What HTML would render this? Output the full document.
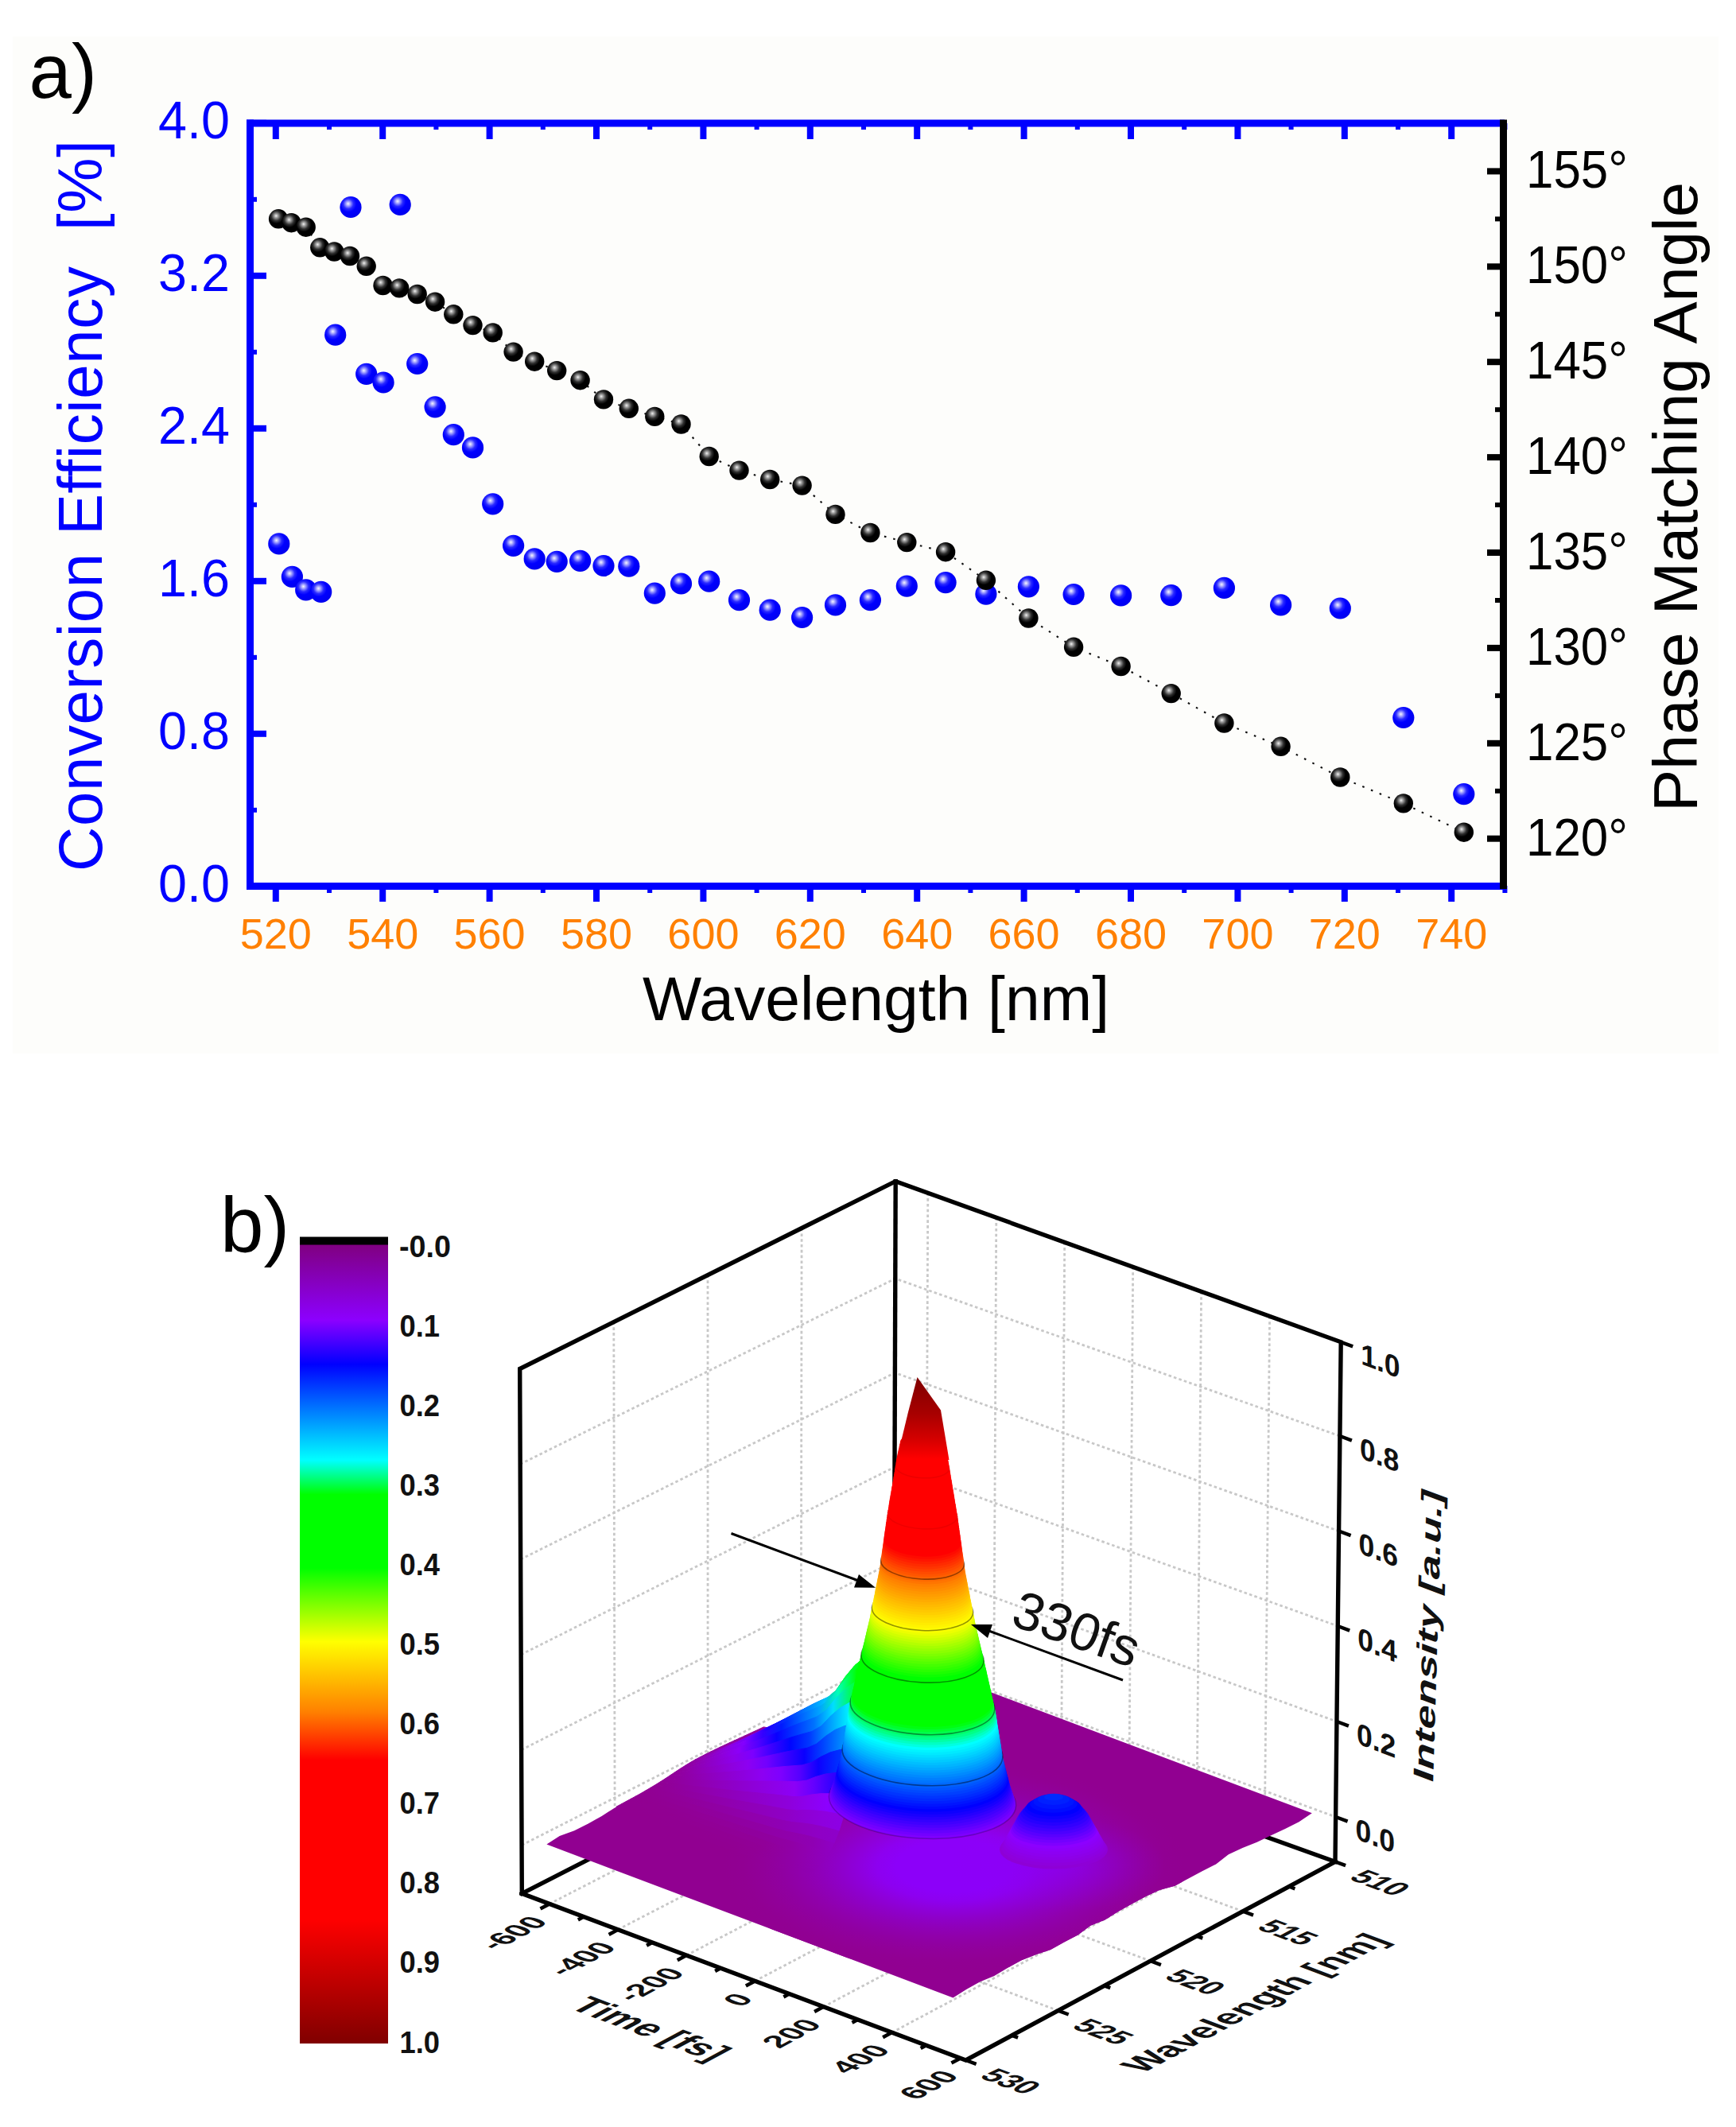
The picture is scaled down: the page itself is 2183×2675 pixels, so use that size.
<!DOCTYPE html>
<html><head><meta charset="utf-8"><title>Figure</title>
<style>html,body{margin:0;padding:0;background:#fff}svg{display:block}</style></head>
<body>
<svg width="2183" height="2675" viewBox="0 0 2183 2675">
<defs>
<radialGradient id="gb" cx="0.40" cy="0.36" r="0.62" fx="0.38" fy="0.34">
<stop offset="0" stop-color="#f4f4ff"/><stop offset="0.12" stop-color="#b8b8ff"/><stop offset="0.38" stop-color="#2a2aff"/><stop offset="0.6" stop-color="#0000ff"/><stop offset="1" stop-color="#0000f0"/>
</radialGradient>
<radialGradient id="gk" cx="0.40" cy="0.36" r="0.62" fx="0.38" fy="0.34">
<stop offset="0" stop-color="#f2f2f2"/><stop offset="0.14" stop-color="#a8a8a8"/><stop offset="0.4" stop-color="#303030"/><stop offset="0.62" stop-color="#000"/><stop offset="1" stop-color="#000"/>
</radialGradient>
</defs>
<rect width="2183" height="2675" fill="#fff"/>
<rect x="16" y="46" width="2145" height="1279" fill="#fdfdfb"/>
<polyline points="350.1,275.3 366.4,280.2 384.7,285.7 402.3,311.3 420.3,316.5 440.0,322.0 460.7,334.8 481.5,359.0 502.2,362.4 524.7,370.0 547.1,379.7 570.3,395.3 594.5,409.1 619.7,418.4 645.6,442.6 672.2,454.7 700.2,466.1 729.6,478.2 759.0,502.4 790.8,513.8 823.3,523.9 856.5,533.5 891.7,574.0 929.5,591.6 968.2,603.0 1008.6,610.6 1050.5,646.9 1094.4,670.0 1140.3,682.1 1189.1,694.2 1239.9,729.8 1293.4,777.5 1350.1,813.8 1409.6,838.0 1472.7,872.1 1539.4,909.5 1610.6,938.8 1685.3,977.5 1764.8,1010.4 1840.8,1046.7" fill="none" stroke="#111" stroke-width="2.1" stroke-dasharray="2.6 9"/>
<circle cx="350.8" cy="683.9" r="13.6" fill="url(#gb)"/>
<circle cx="367.4" cy="725.4" r="13.6" fill="url(#gb)"/>
<circle cx="384.7" cy="741.9" r="13.6" fill="url(#gb)"/>
<circle cx="403.7" cy="744.4" r="13.6" fill="url(#gb)"/>
<circle cx="421.7" cy="421.2" r="13.6" fill="url(#gb)"/>
<circle cx="441.0" cy="260.5" r="13.6" fill="url(#gb)"/>
<circle cx="460.7" cy="470.3" r="13.6" fill="url(#gb)"/>
<circle cx="482.1" cy="481.0" r="13.6" fill="url(#gb)"/>
<circle cx="503.2" cy="257.4" r="13.6" fill="url(#gb)"/>
<circle cx="524.7" cy="457.5" r="13.6" fill="url(#gb)"/>
<circle cx="547.1" cy="511.8" r="13.6" fill="url(#gb)"/>
<circle cx="570.3" cy="546.7" r="13.6" fill="url(#gb)"/>
<circle cx="594.5" cy="562.9" r="13.6" fill="url(#gb)"/>
<circle cx="619.7" cy="633.8" r="13.6" fill="url(#gb)"/>
<circle cx="645.6" cy="686.3" r="13.6" fill="url(#gb)"/>
<circle cx="672.2" cy="702.9" r="13.6" fill="url(#gb)"/>
<circle cx="700.2" cy="706.3" r="13.6" fill="url(#gb)"/>
<circle cx="729.6" cy="705.3" r="13.6" fill="url(#gb)"/>
<circle cx="759.0" cy="711.5" r="13.6" fill="url(#gb)"/>
<circle cx="790.8" cy="712.2" r="13.6" fill="url(#gb)"/>
<circle cx="823.3" cy="746.1" r="13.6" fill="url(#gb)"/>
<circle cx="856.5" cy="734.0" r="13.6" fill="url(#gb)"/>
<circle cx="891.7" cy="731.2" r="13.6" fill="url(#gb)"/>
<circle cx="929.5" cy="754.7" r="13.6" fill="url(#gb)"/>
<circle cx="968.2" cy="767.2" r="13.6" fill="url(#gb)"/>
<circle cx="1008.6" cy="776.5" r="13.6" fill="url(#gb)"/>
<circle cx="1050.5" cy="760.9" r="13.6" fill="url(#gb)"/>
<circle cx="1094.4" cy="754.7" r="13.6" fill="url(#gb)"/>
<circle cx="1140.3" cy="737.1" r="13.6" fill="url(#gb)"/>
<circle cx="1189.1" cy="732.6" r="13.6" fill="url(#gb)"/>
<circle cx="1239.9" cy="747.1" r="13.6" fill="url(#gb)"/>
<circle cx="1293.4" cy="737.8" r="13.6" fill="url(#gb)"/>
<circle cx="1350.1" cy="747.5" r="13.6" fill="url(#gb)"/>
<circle cx="1409.6" cy="748.9" r="13.6" fill="url(#gb)"/>
<circle cx="1472.7" cy="748.7" r="13.6" fill="url(#gb)"/>
<circle cx="1539.4" cy="739.4" r="13.6" fill="url(#gb)"/>
<circle cx="1610.6" cy="760.8" r="13.6" fill="url(#gb)"/>
<circle cx="1685.3" cy="765.0" r="13.6" fill="url(#gb)"/>
<circle cx="1764.8" cy="902.5" r="13.6" fill="url(#gb)"/>
<circle cx="1840.8" cy="998.6" r="13.6" fill="url(#gb)"/>
<circle cx="350.1" cy="275.3" r="12.2" fill="url(#gk)"/>
<circle cx="366.4" cy="280.2" r="12.2" fill="url(#gk)"/>
<circle cx="384.7" cy="285.7" r="12.2" fill="url(#gk)"/>
<circle cx="402.3" cy="311.3" r="12.2" fill="url(#gk)"/>
<circle cx="420.3" cy="316.5" r="12.2" fill="url(#gk)"/>
<circle cx="440.0" cy="322.0" r="12.2" fill="url(#gk)"/>
<circle cx="460.7" cy="334.8" r="12.2" fill="url(#gk)"/>
<circle cx="481.5" cy="359.0" r="12.2" fill="url(#gk)"/>
<circle cx="502.2" cy="362.4" r="12.2" fill="url(#gk)"/>
<circle cx="524.7" cy="370.0" r="12.2" fill="url(#gk)"/>
<circle cx="547.1" cy="379.7" r="12.2" fill="url(#gk)"/>
<circle cx="570.3" cy="395.3" r="12.2" fill="url(#gk)"/>
<circle cx="594.5" cy="409.1" r="12.2" fill="url(#gk)"/>
<circle cx="619.7" cy="418.4" r="12.2" fill="url(#gk)"/>
<circle cx="645.6" cy="442.6" r="12.2" fill="url(#gk)"/>
<circle cx="672.2" cy="454.7" r="12.2" fill="url(#gk)"/>
<circle cx="700.2" cy="466.1" r="12.2" fill="url(#gk)"/>
<circle cx="729.6" cy="478.2" r="12.2" fill="url(#gk)"/>
<circle cx="759.0" cy="502.4" r="12.2" fill="url(#gk)"/>
<circle cx="790.8" cy="513.8" r="12.2" fill="url(#gk)"/>
<circle cx="823.3" cy="523.9" r="12.2" fill="url(#gk)"/>
<circle cx="856.5" cy="533.5" r="12.2" fill="url(#gk)"/>
<circle cx="891.7" cy="574.0" r="12.2" fill="url(#gk)"/>
<circle cx="929.5" cy="591.6" r="12.2" fill="url(#gk)"/>
<circle cx="968.2" cy="603.0" r="12.2" fill="url(#gk)"/>
<circle cx="1008.6" cy="610.6" r="12.2" fill="url(#gk)"/>
<circle cx="1050.5" cy="646.9" r="12.2" fill="url(#gk)"/>
<circle cx="1094.4" cy="670.0" r="12.2" fill="url(#gk)"/>
<circle cx="1140.3" cy="682.1" r="12.2" fill="url(#gk)"/>
<circle cx="1189.1" cy="694.2" r="12.2" fill="url(#gk)"/>
<circle cx="1239.9" cy="729.8" r="12.2" fill="url(#gk)"/>
<circle cx="1293.4" cy="777.5" r="12.2" fill="url(#gk)"/>
<circle cx="1350.1" cy="813.8" r="12.2" fill="url(#gk)"/>
<circle cx="1409.6" cy="838.0" r="12.2" fill="url(#gk)"/>
<circle cx="1472.7" cy="872.1" r="12.2" fill="url(#gk)"/>
<circle cx="1539.4" cy="909.5" r="12.2" fill="url(#gk)"/>
<circle cx="1610.6" cy="938.8" r="12.2" fill="url(#gk)"/>
<circle cx="1685.3" cy="977.5" r="12.2" fill="url(#gk)"/>
<circle cx="1764.8" cy="1010.4" r="12.2" fill="url(#gk)"/>
<circle cx="1840.8" cy="1046.7" r="12.2" fill="url(#gk)"/>
<g stroke="#0000ff" fill="none">
<line x1="314.5" y1="150.5" x2="314.5" y2="1119" stroke-width="9"/>
<line x1="310" y1="155" x2="1892" y2="155" stroke-width="9"/>
<line x1="310" y1="1114.5" x2="1895" y2="1114.5" stroke-width="9"/>
<line x1="346.8" y1="155" x2="346.8" y2="175" stroke-width="8"/>
<line x1="346.8" y1="1114" x2="346.8" y2="1134" stroke-width="8"/>
<line x1="414.0" y1="155" x2="414.0" y2="163" stroke-width="6"/>
<line x1="414.0" y1="1114" x2="414.0" y2="1123" stroke-width="6"/>
<line x1="481.2" y1="155" x2="481.2" y2="175" stroke-width="8"/>
<line x1="481.2" y1="1114" x2="481.2" y2="1134" stroke-width="8"/>
<line x1="548.4" y1="155" x2="548.4" y2="163" stroke-width="6"/>
<line x1="548.4" y1="1114" x2="548.4" y2="1123" stroke-width="6"/>
<line x1="615.6" y1="155" x2="615.6" y2="175" stroke-width="8"/>
<line x1="615.6" y1="1114" x2="615.6" y2="1134" stroke-width="8"/>
<line x1="682.8" y1="155" x2="682.8" y2="163" stroke-width="6"/>
<line x1="682.8" y1="1114" x2="682.8" y2="1123" stroke-width="6"/>
<line x1="750.0" y1="155" x2="750.0" y2="175" stroke-width="8"/>
<line x1="750.0" y1="1114" x2="750.0" y2="1134" stroke-width="8"/>
<line x1="817.2" y1="155" x2="817.2" y2="163" stroke-width="6"/>
<line x1="817.2" y1="1114" x2="817.2" y2="1123" stroke-width="6"/>
<line x1="884.4" y1="155" x2="884.4" y2="175" stroke-width="8"/>
<line x1="884.4" y1="1114" x2="884.4" y2="1134" stroke-width="8"/>
<line x1="951.6" y1="155" x2="951.6" y2="163" stroke-width="6"/>
<line x1="951.6" y1="1114" x2="951.6" y2="1123" stroke-width="6"/>
<line x1="1018.8" y1="155" x2="1018.8" y2="175" stroke-width="8"/>
<line x1="1018.8" y1="1114" x2="1018.8" y2="1134" stroke-width="8"/>
<line x1="1086.0" y1="155" x2="1086.0" y2="163" stroke-width="6"/>
<line x1="1086.0" y1="1114" x2="1086.0" y2="1123" stroke-width="6"/>
<line x1="1153.2" y1="155" x2="1153.2" y2="175" stroke-width="8"/>
<line x1="1153.2" y1="1114" x2="1153.2" y2="1134" stroke-width="8"/>
<line x1="1220.4" y1="155" x2="1220.4" y2="163" stroke-width="6"/>
<line x1="1220.4" y1="1114" x2="1220.4" y2="1123" stroke-width="6"/>
<line x1="1287.6" y1="155" x2="1287.6" y2="175" stroke-width="8"/>
<line x1="1287.6" y1="1114" x2="1287.6" y2="1134" stroke-width="8"/>
<line x1="1354.8" y1="155" x2="1354.8" y2="163" stroke-width="6"/>
<line x1="1354.8" y1="1114" x2="1354.8" y2="1123" stroke-width="6"/>
<line x1="1422.0" y1="155" x2="1422.0" y2="175" stroke-width="8"/>
<line x1="1422.0" y1="1114" x2="1422.0" y2="1134" stroke-width="8"/>
<line x1="1489.2" y1="155" x2="1489.2" y2="163" stroke-width="6"/>
<line x1="1489.2" y1="1114" x2="1489.2" y2="1123" stroke-width="6"/>
<line x1="1556.4" y1="155" x2="1556.4" y2="175" stroke-width="8"/>
<line x1="1556.4" y1="1114" x2="1556.4" y2="1134" stroke-width="8"/>
<line x1="1623.6" y1="155" x2="1623.6" y2="163" stroke-width="6"/>
<line x1="1623.6" y1="1114" x2="1623.6" y2="1123" stroke-width="6"/>
<line x1="1690.8" y1="155" x2="1690.8" y2="175" stroke-width="8"/>
<line x1="1690.8" y1="1114" x2="1690.8" y2="1134" stroke-width="8"/>
<line x1="1758.0" y1="155" x2="1758.0" y2="163" stroke-width="6"/>
<line x1="1758.0" y1="1114" x2="1758.0" y2="1123" stroke-width="6"/>
<line x1="1825.2" y1="155" x2="1825.2" y2="175" stroke-width="8"/>
<line x1="1825.2" y1="1114" x2="1825.2" y2="1134" stroke-width="8"/>
<line x1="1892.4" y1="155" x2="1892.4" y2="163" stroke-width="6"/>
<line x1="1892.4" y1="1114" x2="1892.4" y2="1123" stroke-width="6"/>
<line x1="314" y1="1114.8" x2="335" y2="1114.8" stroke-width="8"/>
<line x1="314" y1="1018.8" x2="323" y2="1018.8" stroke-width="6"/>
<line x1="314" y1="922.8" x2="335" y2="922.8" stroke-width="8"/>
<line x1="314" y1="826.8" x2="323" y2="826.8" stroke-width="6"/>
<line x1="314" y1="730.8" x2="335" y2="730.8" stroke-width="8"/>
<line x1="314" y1="634.8" x2="323" y2="634.8" stroke-width="6"/>
<line x1="314" y1="538.8" x2="335" y2="538.8" stroke-width="8"/>
<line x1="314" y1="442.8" x2="323" y2="442.8" stroke-width="6"/>
<line x1="314" y1="346.8" x2="335" y2="346.8" stroke-width="8"/>
<line x1="314" y1="250.8" x2="323" y2="250.8" stroke-width="6"/>
<line x1="314" y1="154.8" x2="335" y2="154.8" stroke-width="8"/>
</g>
<g stroke="#000" fill="none">
<line x1="1890.5" y1="150.5" x2="1890.5" y2="1118" stroke-width="9"/>
<line x1="1870" y1="1054.7" x2="1890" y2="1054.7" stroke-width="8"/>
<line x1="1880" y1="994.8" x2="1890" y2="994.8" stroke-width="6"/>
<line x1="1870" y1="934.8" x2="1890" y2="934.8" stroke-width="8"/>
<line x1="1880" y1="874.9" x2="1890" y2="874.9" stroke-width="6"/>
<line x1="1870" y1="814.9" x2="1890" y2="814.9" stroke-width="8"/>
<line x1="1880" y1="755.0" x2="1890" y2="755.0" stroke-width="6"/>
<line x1="1870" y1="695.0" x2="1890" y2="695.0" stroke-width="8"/>
<line x1="1880" y1="635.0" x2="1890" y2="635.0" stroke-width="6"/>
<line x1="1870" y1="575.1" x2="1890" y2="575.1" stroke-width="8"/>
<line x1="1880" y1="515.2" x2="1890" y2="515.2" stroke-width="6"/>
<line x1="1870" y1="455.2" x2="1890" y2="455.2" stroke-width="8"/>
<line x1="1880" y1="395.2" x2="1890" y2="395.2" stroke-width="6"/>
<line x1="1870" y1="335.3" x2="1890" y2="335.3" stroke-width="8"/>
<line x1="1880" y1="275.4" x2="1890" y2="275.4" stroke-width="6"/>
<line x1="1870" y1="215.4" x2="1890" y2="215.4" stroke-width="8"/>
</g>
<g font-family="Liberation Sans, sans-serif">
<g fill="#ff8000" font-size="54" text-anchor="middle">
<text x="346.8" y="1193">520</text>
<text x="481.2" y="1193">540</text>
<text x="615.6" y="1193">560</text>
<text x="750.0" y="1193">580</text>
<text x="884.4" y="1193">600</text>
<text x="1018.8" y="1193">620</text>
<text x="1153.2" y="1193">640</text>
<text x="1287.6" y="1193">660</text>
<text x="1422.0" y="1193">680</text>
<text x="1556.4" y="1193">700</text>
<text x="1690.8" y="1193">720</text>
<text x="1825.2" y="1193">740</text>
</g>
<g fill="#0000ff" font-size="67">
<text x="199" y="1134.3" textLength="90" lengthAdjust="spacingAndGlyphs">0.0</text>
<text x="199" y="942.3" textLength="90" lengthAdjust="spacingAndGlyphs">0.8</text>
<text x="199" y="750.3" textLength="90" lengthAdjust="spacingAndGlyphs">1.6</text>
<text x="199" y="558.3" textLength="90" lengthAdjust="spacingAndGlyphs">2.4</text>
<text x="199" y="366.3" textLength="90" lengthAdjust="spacingAndGlyphs">3.2</text>
<text x="199" y="174.3" textLength="90" lengthAdjust="spacingAndGlyphs">4.0</text>
</g>
<g fill="#000" font-size="66">
<text x="1919" y="1075.7" textLength="128" lengthAdjust="spacingAndGlyphs">120°</text>
<text x="1919" y="955.8" textLength="128" lengthAdjust="spacingAndGlyphs">125°</text>
<text x="1919" y="835.9" textLength="128" lengthAdjust="spacingAndGlyphs">130°</text>
<text x="1919" y="716.0" textLength="128" lengthAdjust="spacingAndGlyphs">135°</text>
<text x="1919" y="596.1" textLength="128" lengthAdjust="spacingAndGlyphs">140°</text>
<text x="1919" y="476.2" textLength="128" lengthAdjust="spacingAndGlyphs">145°</text>
<text x="1919" y="356.3" textLength="128" lengthAdjust="spacingAndGlyphs">150°</text>
<text x="1919" y="236.4" textLength="128" lengthAdjust="spacingAndGlyphs">155°</text>
</g>
<text x="808" y="1283" font-size="78" fill="#000" textLength="587" lengthAdjust="spacingAndGlyphs">Wavelength [nm]</text>
<text transform="translate(128,1096) rotate(-90)" font-size="78" fill="#0000ff" textLength="920" lengthAdjust="spacing">Conversion Efficiency &#160;[%]</text>
<text transform="translate(2133.6,1021) rotate(-90)" font-size="78" fill="#000" textLength="792" lengthAdjust="spacingAndGlyphs">Phase Matching Angle</text>
<text x="36.5" y="122.5" font-size="96" fill="#000">a)</text>
<text x="277" y="1574" font-size="98" fill="#000">b)</text>
</g>
<defs><linearGradient id="cb" x1="0" y1="0" x2="0" y2="1">
<stop offset="0.000" stop-color="rgb(128,0,128)"/>
<stop offset="0.095" stop-color="rgb(140,0,255)"/>
<stop offset="0.150" stop-color="rgb(0,0,255)"/>
<stop offset="0.270" stop-color="rgb(0,255,255)"/>
<stop offset="0.313" stop-color="rgb(0,255,0)"/>
<stop offset="0.405" stop-color="rgb(0,255,0)"/>
<stop offset="0.497" stop-color="rgb(255,255,0)"/>
<stop offset="0.585" stop-color="rgb(255,128,0)"/>
<stop offset="0.645" stop-color="rgb(255,0,0)"/>
<stop offset="0.844" stop-color="rgb(255,0,0)"/>
<stop offset="1.000" stop-color="rgb(128,0,0)"/>
</linearGradient></defs>
<rect x="377" y="1565" width="111" height="1005" fill="url(#cb)"/>
<rect x="377" y="1555.5" width="111" height="10" fill="#000"/>
<g font-family="Liberation Sans, sans-serif" font-weight="bold" font-size="38" fill="#111">
<text x="502" y="1580.5" textLength="65" lengthAdjust="spacingAndGlyphs">-0.0</text>
<text x="502.5" y="1680.6" textLength="50.5" lengthAdjust="spacingAndGlyphs">0.1</text>
<text x="502.5" y="1780.7" textLength="50.5" lengthAdjust="spacingAndGlyphs">0.2</text>
<text x="502.5" y="1880.8" textLength="50.5" lengthAdjust="spacingAndGlyphs">0.3</text>
<text x="502.5" y="1980.9" textLength="50.5" lengthAdjust="spacingAndGlyphs">0.4</text>
<text x="502.5" y="2081.0" textLength="50.5" lengthAdjust="spacingAndGlyphs">0.5</text>
<text x="502.5" y="2181.1" textLength="50.5" lengthAdjust="spacingAndGlyphs">0.6</text>
<text x="502.5" y="2281.2" textLength="50.5" lengthAdjust="spacingAndGlyphs">0.7</text>
<text x="502.5" y="2381.3" textLength="50.5" lengthAdjust="spacingAndGlyphs">0.8</text>
<text x="502.5" y="2481.4" textLength="50.5" lengthAdjust="spacingAndGlyphs">0.9</text>
<text x="502.5" y="2581.5" textLength="50.5" lengthAdjust="spacingAndGlyphs">1.0</text>
</g>
<g stroke="#c8c8c8" stroke-width="2.8" stroke-dasharray="3.6 3.2" fill="none">
<line x1="771.8" y1="1662.5" x2="773.2" y2="2321.6"/>
<line x1="890.0" y1="1603.5" x2="890.1" y2="2261.7"/>
<line x1="1008.1" y1="1544.6" x2="1007.1" y2="2201.8"/>
<polyline points="654.2,1841.3 1125.8,1608.0 1684.9,1806.0"/>
<polyline points="654.6,1961.1 1125.4,1726.5 1683.6,1925.5"/>
<polyline points="655.1,2080.9 1125.0,1845.0 1682.3,2045.0"/>
<polyline points="655.6,2200.7 1124.6,1963.5 1680.9,2165.0"/>
<polyline points="656.1,2320.5 1124.2,2082.0 1679.6,2285.0"/>
<line x1="1166.8" y1="1500.3" x2="1164.2" y2="2156.4"/>
<line x1="1252.8" y1="1531.3" x2="1249.4" y2="2187.0"/>
<line x1="1338.7" y1="1562.3" x2="1334.6" y2="2217.6"/>
<line x1="1424.7" y1="1593.4" x2="1419.8" y2="2248.2"/>
<line x1="1510.6" y1="1624.4" x2="1505.0" y2="2278.8"/>
<line x1="1596.6" y1="1655.4" x2="1590.2" y2="2309.4"/>
<line x1="690.9" y1="2394.4" x2="1158.4" y2="2154.4"/>
<line x1="777.1" y1="2426.7" x2="1244.1" y2="2185.1"/>
<line x1="863.2" y1="2459.1" x2="1329.7" y2="2215.9"/>
<line x1="949.4" y1="2491.4" x2="1415.4" y2="2246.6"/>
<line x1="1035.5" y1="2523.8" x2="1501.0" y2="2277.4"/>
<line x1="1121.7" y1="2556.1" x2="1586.7" y2="2308.1"/>
<line x1="1330.6" y1="2528.6" x2="773.2" y2="2321.6"/>
<line x1="1446.8" y1="2466.2" x2="890.1" y2="2261.7"/>
<line x1="1562.9" y1="2403.7" x2="1007.1" y2="2201.8"/>
</g>
<g stroke="#000" stroke-width="5.4" fill="none" stroke-linejoin="miter" stroke-linecap="square">
<polyline points="656.3,2381.4 1124.0,2142.0 1679.0,2341.3"/>
<line x1="1126.2" y1="1485.6" x2="1124" y2="2142"/>
</g>
<polygon points="687.4,2319.6 703.7,2308.9 722.3,2302.2 739.7,2293.6 756.7,2283.9 773.2,2273.5 791.2,2265.9 807.6,2255.3 826.9,2250.1 844.1,2240.9 860.6,2230.5 877.4,2220.5 896.1,2214.3 912.6,2203.9 930.7,2196.3 947.9,2187.2 964.4,2176.8 981.5,2167.5 999.2,2159.4 1016.2,2149.7 1032.8,2139.6 1050.5,2131.3 1069.0,2124.6 1084.5,2112.3 1101.8,2103.4 1120.5,2097.0 1137.5,2087.5 1649.8,2280.3 1649.8,2280.3 1633.5,2291.2 1616.1,2300.0 1598.4,2308.3 1580.7,2316.7 1562.5,2323.9 1544.8,2332.2 1529.1,2344.4 1511.8,2353.3 1494.5,2362.4 1477.4,2371.8 1458.1,2377.0 1440.4,2385.3 1423.2,2394.6 1406.2,2404.1 1389.5,2414.4 1371.3,2421.7 1355.5,2433.5 1338.2,2442.6 1321.2,2452.1 1302.4,2458.3 1284.1,2465.5 1267.0,2474.9 1250.3,2485.1 1232.1,2492.5 1215.1,2502.1 1198.5,2512.4" fill="#910091"/>
<defs><radialGradient id="halo" gradientUnits="userSpaceOnUse" cx="1200" cy="2347" r="290" gradientTransform="translate(1200,2347) scale(1,0.45) translate(-1200,-2347)"><stop offset="0.000" stop-color="#8c00f9"/><stop offset="0.083" stop-color="#8c00f9"/><stop offset="0.167" stop-color="#8c00f9"/><stop offset="0.250" stop-color="#8c00f9"/><stop offset="0.333" stop-color="#8d00f0"/><stop offset="0.417" stop-color="#8e00dc"/><stop offset="0.500" stop-color="#8e00ca"/><stop offset="0.583" stop-color="#8f00ba"/><stop offset="0.667" stop-color="#9000ac"/><stop offset="0.750" stop-color="#9000a1"/><stop offset="0.833" stop-color="#910099"/><stop offset="0.917" stop-color="#910093"/><stop offset="1.000" stop-color="#910091"/></radialGradient>
<clipPath id="flclip"><polygon points="687.4,2319.6 703.7,2308.9 722.3,2302.2 739.7,2293.6 756.7,2283.9 773.2,2273.5 791.2,2265.9 807.6,2255.3 826.9,2250.1 844.1,2240.9 860.6,2230.5 877.4,2220.5 896.1,2214.3 912.6,2203.9 930.7,2196.3 947.9,2187.2 964.4,2176.8 981.5,2167.5 999.2,2159.4 1016.2,2149.7 1032.8,2139.6 1050.5,2131.3 1069.0,2124.6 1084.5,2112.3 1101.8,2103.4 1120.5,2097.0 1137.5,2087.5 1649.8,2280.3 1649.8,2280.3 1633.5,2291.2 1616.1,2300.0 1598.4,2308.3 1580.7,2316.7 1562.5,2323.9 1544.8,2332.2 1529.1,2344.4 1511.8,2353.3 1494.5,2362.4 1477.4,2371.8 1458.1,2377.0 1440.4,2385.3 1423.2,2394.6 1406.2,2404.1 1389.5,2414.4 1371.3,2421.7 1355.5,2433.5 1338.2,2442.6 1321.2,2452.1 1302.4,2458.3 1284.1,2465.5 1267.0,2474.9 1250.3,2485.1 1232.1,2492.5 1215.1,2502.1 1198.5,2512.4"/></clipPath></defs>
<g clip-path="url(#flclip)"><ellipse cx="1200" cy="2347" rx="290" ry="130.5" fill="url(#halo)"/>
<defs><radialGradient id="halo2" gradientUnits="userSpaceOnUse" cx="1330" cy="2345" r="135" gradientTransform="translate(1330,2345) scale(1,0.45) translate(-1330,-2345)"><stop offset="0.000" stop-color="#8c00f0" stop-opacity="0.750"/><stop offset="0.125" stop-color="#8c00f0" stop-opacity="0.630"/><stop offset="0.250" stop-color="#8c00f0" stop-opacity="0.516"/><stop offset="0.375" stop-color="#8c00f0" stop-opacity="0.407"/><stop offset="0.500" stop-color="#8c00f0" stop-opacity="0.305"/><stop offset="0.625" stop-color="#8c00f0" stop-opacity="0.210"/><stop offset="0.750" stop-color="#8c00f0" stop-opacity="0.124"/><stop offset="0.875" stop-color="#8c00f0" stop-opacity="0.050"/><stop offset="1.000" stop-color="#8c00f0" stop-opacity="0.000"/></radialGradient></defs>
</g>
<defs><linearGradient id="rg30" gradientUnits="userSpaceOnUse" x1="1194.0" y1="0" x2="957.2" y2="0"><stop offset="0.000" stop-color="#4700ff"/><stop offset="0.100" stop-color="#5f00ff"/><stop offset="0.200" stop-color="#8b00ff"/><stop offset="0.300" stop-color="#8d00ea"/><stop offset="0.400" stop-color="#8e00dd"/><stop offset="0.500" stop-color="#8e00d1"/><stop offset="0.600" stop-color="#8f00c4"/><stop offset="0.700" stop-color="#8f00b8"/><stop offset="0.800" stop-color="#9000ab"/><stop offset="0.900" stop-color="#9000a0"/><stop offset="1.000" stop-color="#910095"/></linearGradient><linearGradient id="rg29" gradientUnits="userSpaceOnUse" x1="1187.8" y1="0" x2="951.0" y2="0"><stop offset="0.000" stop-color="#0e00ff"/><stop offset="0.100" stop-color="#2a00ff"/><stop offset="0.200" stop-color="#5e00ff"/><stop offset="0.300" stop-color="#8c00fa"/><stop offset="0.400" stop-color="#8d00ec"/><stop offset="0.500" stop-color="#8e00dd"/><stop offset="0.600" stop-color="#8e00cd"/><stop offset="0.700" stop-color="#8f00bf"/><stop offset="0.800" stop-color="#9000b0"/><stop offset="0.900" stop-color="#9000a2"/><stop offset="1.000" stop-color="#910096"/></linearGradient><linearGradient id="rg28" gradientUnits="userSpaceOnUse" x1="1181.6" y1="0" x2="944.8" y2="0"><stop offset="0.000" stop-color="#0029ff"/><stop offset="0.100" stop-color="#000eff"/><stop offset="0.200" stop-color="#2d00ff"/><stop offset="0.300" stop-color="#6f00ff"/><stop offset="0.400" stop-color="#8c00fb"/><stop offset="0.500" stop-color="#8d00e9"/><stop offset="0.600" stop-color="#8e00d8"/><stop offset="0.700" stop-color="#8f00c7"/><stop offset="0.800" stop-color="#8f00b6"/><stop offset="0.900" stop-color="#9000a5"/><stop offset="1.000" stop-color="#910096"/></linearGradient><linearGradient id="rg27" gradientUnits="userSpaceOnUse" x1="1175.5" y1="0" x2="938.6" y2="0"><stop offset="0.000" stop-color="#0061ff"/><stop offset="0.100" stop-color="#0041ff"/><stop offset="0.200" stop-color="#0006ff"/><stop offset="0.300" stop-color="#4600ff"/><stop offset="0.400" stop-color="#7000ff"/><stop offset="0.500" stop-color="#8c00f7"/><stop offset="0.600" stop-color="#8d00e3"/><stop offset="0.700" stop-color="#8e00cf"/><stop offset="0.800" stop-color="#8f00bb"/><stop offset="0.900" stop-color="#9000a8"/><stop offset="1.000" stop-color="#910097"/></linearGradient><linearGradient id="rg26" gradientUnits="userSpaceOnUse" x1="1169.3" y1="0" x2="932.5" y2="0"><stop offset="0.000" stop-color="#009bff"/><stop offset="0.100" stop-color="#0076ff"/><stop offset="0.200" stop-color="#0034ff"/><stop offset="0.300" stop-color="#1a00ff"/><stop offset="0.400" stop-color="#4b00ff"/><stop offset="0.500" stop-color="#7e00ff"/><stop offset="0.600" stop-color="#8d00ee"/><stop offset="0.700" stop-color="#8e00d8"/><stop offset="0.800" stop-color="#8f00c1"/><stop offset="0.900" stop-color="#9000ac"/><stop offset="1.000" stop-color="#910098"/></linearGradient><linearGradient id="rg25" gradientUnits="userSpaceOnUse" x1="1163.1" y1="0" x2="926.3" y2="0"><stop offset="0.000" stop-color="#00d5ff"/><stop offset="0.100" stop-color="#00acff"/><stop offset="0.200" stop-color="#0061ff"/><stop offset="0.300" stop-color="#000fff"/><stop offset="0.400" stop-color="#2500ff"/><stop offset="0.500" stop-color="#5f00ff"/><stop offset="0.600" stop-color="#8c00f9"/><stop offset="0.700" stop-color="#8d00e0"/><stop offset="0.800" stop-color="#8f00c7"/><stop offset="0.900" stop-color="#9000af"/><stop offset="1.000" stop-color="#910099"/></linearGradient><linearGradient id="rg24" gradientUnits="userSpaceOnUse" x1="1156.9" y1="0" x2="920.1" y2="0"><stop offset="0.000" stop-color="#00ffd3"/><stop offset="0.100" stop-color="#00e2ff"/><stop offset="0.200" stop-color="#008fff"/><stop offset="0.300" stop-color="#0033ff"/><stop offset="0.400" stop-color="#0001ff"/><stop offset="0.500" stop-color="#3f00ff"/><stop offset="0.600" stop-color="#7f00ff"/><stop offset="0.700" stop-color="#8d00e9"/><stop offset="0.800" stop-color="#8e00cd"/><stop offset="0.900" stop-color="#8f00b2"/><stop offset="1.000" stop-color="#91009a"/></linearGradient><linearGradient id="rg23" gradientUnits="userSpaceOnUse" x1="1150.7" y1="0" x2="913.9" y2="0"><stop offset="0.000" stop-color="#00ff39"/><stop offset="0.100" stop-color="#00ffc3"/><stop offset="0.200" stop-color="#00baff"/><stop offset="0.300" stop-color="#0056ff"/><stop offset="0.400" stop-color="#001fff"/><stop offset="0.500" stop-color="#2200ff"/><stop offset="0.600" stop-color="#6700ff"/><stop offset="0.700" stop-color="#8d00f1"/><stop offset="0.800" stop-color="#8e00d3"/><stop offset="0.900" stop-color="#8f00b5"/><stop offset="1.000" stop-color="#91009b"/></linearGradient><linearGradient id="rg22" gradientUnits="userSpaceOnUse" x1="1144.5" y1="0" x2="907.7" y2="0"><stop offset="0.000" stop-color="#00ff00"/><stop offset="0.100" stop-color="#00ff40"/><stop offset="0.200" stop-color="#00e2ff"/><stop offset="0.300" stop-color="#0076ff"/><stop offset="0.400" stop-color="#003aff"/><stop offset="0.500" stop-color="#0600ff"/><stop offset="0.600" stop-color="#5100ff"/><stop offset="0.700" stop-color="#8c00f9"/><stop offset="0.800" stop-color="#8e00d8"/><stop offset="0.900" stop-color="#8f00b8"/><stop offset="1.000" stop-color="#91009b"/></linearGradient><linearGradient id="rg21" gradientUnits="userSpaceOnUse" x1="1138.4" y1="0" x2="901.6" y2="0"><stop offset="0.000" stop-color="#00ff00"/><stop offset="0.100" stop-color="#00ff00"/><stop offset="0.200" stop-color="#00fff0"/><stop offset="0.300" stop-color="#0092ff"/><stop offset="0.400" stop-color="#0052ff"/><stop offset="0.500" stop-color="#000fff"/><stop offset="0.600" stop-color="#3e00ff"/><stop offset="0.700" stop-color="#8b00ff"/><stop offset="0.800" stop-color="#8e00dc"/><stop offset="0.900" stop-color="#8f00bb"/><stop offset="1.000" stop-color="#90009c"/></linearGradient><linearGradient id="rg20" gradientUnits="userSpaceOnUse" x1="1132.2" y1="0" x2="895.4" y2="0"><stop offset="0.000" stop-color="#00ff00"/><stop offset="0.100" stop-color="#00ff00"/><stop offset="0.200" stop-color="#00ff9f"/><stop offset="0.300" stop-color="#00a9ff"/><stop offset="0.400" stop-color="#0066ff"/><stop offset="0.500" stop-color="#0020ff"/><stop offset="0.600" stop-color="#2e00ff"/><stop offset="0.700" stop-color="#7f00ff"/><stop offset="0.800" stop-color="#8d00e0"/><stop offset="0.900" stop-color="#8f00bd"/><stop offset="1.000" stop-color="#90009d"/></linearGradient><linearGradient id="rg19" gradientUnits="userSpaceOnUse" x1="1126.0" y1="0" x2="889.2" y2="0"><stop offset="0.000" stop-color="#00ff00"/><stop offset="0.100" stop-color="#00ff00"/><stop offset="0.200" stop-color="#00ff63"/><stop offset="0.300" stop-color="#00baff"/><stop offset="0.400" stop-color="#0075ff"/><stop offset="0.500" stop-color="#002cff"/><stop offset="0.600" stop-color="#2200ff"/><stop offset="0.700" stop-color="#7600ff"/><stop offset="0.800" stop-color="#8d00e3"/><stop offset="0.900" stop-color="#8f00bf"/><stop offset="1.000" stop-color="#90009d"/></linearGradient><linearGradient id="rg18" gradientUnits="userSpaceOnUse" x1="1119.8" y1="0" x2="883.0" y2="0"><stop offset="0.000" stop-color="#00ff00"/><stop offset="0.100" stop-color="#00ff00"/><stop offset="0.200" stop-color="#00ff3d"/><stop offset="0.300" stop-color="#00c5ff"/><stop offset="0.400" stop-color="#007fff"/><stop offset="0.500" stop-color="#0034ff"/><stop offset="0.600" stop-color="#1b00ff"/><stop offset="0.700" stop-color="#7000ff"/><stop offset="0.800" stop-color="#8d00e5"/><stop offset="0.900" stop-color="#8f00bf"/><stop offset="1.000" stop-color="#90009d"/></linearGradient><linearGradient id="rg17" gradientUnits="userSpaceOnUse" x1="1113.6" y1="0" x2="876.8" y2="0"><stop offset="0.000" stop-color="#00ff00"/><stop offset="0.100" stop-color="#00ff00"/><stop offset="0.200" stop-color="#00ff2f"/><stop offset="0.300" stop-color="#00c9ff"/><stop offset="0.400" stop-color="#0082ff"/><stop offset="0.500" stop-color="#0037ff"/><stop offset="0.600" stop-color="#1800ff"/><stop offset="0.700" stop-color="#6e00ff"/><stop offset="0.800" stop-color="#8d00e5"/><stop offset="0.900" stop-color="#8f00c0"/><stop offset="1.000" stop-color="#90009e"/></linearGradient><linearGradient id="rg16" gradientUnits="userSpaceOnUse" x1="1107.5" y1="0" x2="870.7" y2="0"><stop offset="0.000" stop-color="#00ff00"/><stop offset="0.100" stop-color="#00ff00"/><stop offset="0.200" stop-color="#00ff50"/><stop offset="0.300" stop-color="#00c0ff"/><stop offset="0.400" stop-color="#007aff"/><stop offset="0.500" stop-color="#0030ff"/><stop offset="0.600" stop-color="#1e00ff"/><stop offset="0.700" stop-color="#7300ff"/><stop offset="0.800" stop-color="#8d00e4"/><stop offset="0.900" stop-color="#8f00bf"/><stop offset="1.000" stop-color="#90009d"/></linearGradient><linearGradient id="rg15" gradientUnits="userSpaceOnUse" x1="1101.3" y1="0" x2="864.5" y2="0"><stop offset="0.000" stop-color="#00ff00"/><stop offset="0.100" stop-color="#00ff00"/><stop offset="0.200" stop-color="#00ffb8"/><stop offset="0.300" stop-color="#00a2ff"/><stop offset="0.400" stop-color="#0060ff"/><stop offset="0.500" stop-color="#001aff"/><stop offset="0.600" stop-color="#3300ff"/><stop offset="0.700" stop-color="#8300ff"/><stop offset="0.800" stop-color="#8d00df"/><stop offset="0.900" stop-color="#8f00bc"/><stop offset="1.000" stop-color="#90009d"/></linearGradient><linearGradient id="rg14" gradientUnits="userSpaceOnUse" x1="1095.1" y1="0" x2="858.3" y2="0"><stop offset="0.000" stop-color="#00ff00"/><stop offset="0.100" stop-color="#00ff4c"/><stop offset="0.200" stop-color="#00deff"/><stop offset="0.300" stop-color="#0073ff"/><stop offset="0.400" stop-color="#0038ff"/><stop offset="0.500" stop-color="#0900ff"/><stop offset="0.600" stop-color="#5300ff"/><stop offset="0.700" stop-color="#8c00f8"/><stop offset="0.800" stop-color="#8e00d7"/><stop offset="0.900" stop-color="#8f00b8"/><stop offset="1.000" stop-color="#91009b"/></linearGradient><linearGradient id="rg13" gradientUnits="userSpaceOnUse" x1="1088.9" y1="0" x2="852.1" y2="0"><stop offset="0.000" stop-color="#00ffbd"/><stop offset="0.100" stop-color="#00e9ff"/><stop offset="0.200" stop-color="#0095ff"/><stop offset="0.300" stop-color="#0038ff"/><stop offset="0.400" stop-color="#0005ff"/><stop offset="0.500" stop-color="#3b00ff"/><stop offset="0.600" stop-color="#7c00ff"/><stop offset="0.700" stop-color="#8d00ea"/><stop offset="0.800" stop-color="#8e00ce"/><stop offset="0.900" stop-color="#8f00b3"/><stop offset="1.000" stop-color="#91009a"/></linearGradient><linearGradient id="rg12" gradientUnits="userSpaceOnUse" x1="1082.7" y1="0" x2="845.9" y2="0"><stop offset="0.000" stop-color="#00b1ff"/><stop offset="0.100" stop-color="#008bff"/><stop offset="0.200" stop-color="#0045ff"/><stop offset="0.300" stop-color="#0a00ff"/><stop offset="0.400" stop-color="#3c00ff"/><stop offset="0.500" stop-color="#7200ff"/><stop offset="0.600" stop-color="#8d00f2"/><stop offset="0.700" stop-color="#8e00db"/><stop offset="0.800" stop-color="#8f00c3"/><stop offset="0.900" stop-color="#9000ad"/><stop offset="1.000" stop-color="#910098"/></linearGradient><linearGradient id="rg11" gradientUnits="userSpaceOnUse" x1="1076.6" y1="0" x2="839.7" y2="0"><stop offset="0.000" stop-color="#004bff"/><stop offset="0.100" stop-color="#002dff"/><stop offset="0.200" stop-color="#0d00ff"/><stop offset="0.300" stop-color="#5600ff"/><stop offset="0.400" stop-color="#7e00ff"/><stop offset="0.500" stop-color="#8d00f2"/><stop offset="0.600" stop-color="#8d00de"/><stop offset="0.700" stop-color="#8e00cc"/><stop offset="0.800" stop-color="#8f00b9"/><stop offset="0.900" stop-color="#9000a7"/><stop offset="1.000" stop-color="#910097"/></linearGradient><linearGradient id="rg10" gradientUnits="userSpaceOnUse" x1="1070.4" y1="0" x2="833.6" y2="0"><stop offset="0.000" stop-color="#1700ff"/><stop offset="0.100" stop-color="#3200ff"/><stop offset="0.200" stop-color="#6500ff"/><stop offset="0.300" stop-color="#8c00f7"/><stop offset="0.400" stop-color="#8d00e9"/><stop offset="0.500" stop-color="#8e00db"/><stop offset="0.600" stop-color="#8e00cc"/><stop offset="0.700" stop-color="#8f00be"/><stop offset="0.800" stop-color="#9000af"/><stop offset="0.900" stop-color="#9000a2"/><stop offset="1.000" stop-color="#910096"/></linearGradient><linearGradient id="rg9" gradientUnits="userSpaceOnUse" x1="1064.2" y1="0" x2="827.4" y2="0"><stop offset="0.000" stop-color="#7800ff"/><stop offset="0.100" stop-color="#8c00ff"/><stop offset="0.200" stop-color="#8d00ee"/><stop offset="0.300" stop-color="#8e00dc"/><stop offset="0.400" stop-color="#8e00d2"/><stop offset="0.500" stop-color="#8f00c7"/><stop offset="0.600" stop-color="#8f00bc"/><stop offset="0.700" stop-color="#9000b2"/><stop offset="0.800" stop-color="#9000a7"/><stop offset="0.900" stop-color="#90009d"/><stop offset="1.000" stop-color="#910094"/></linearGradient><linearGradient id="rg8" gradientUnits="userSpaceOnUse" x1="1058.0" y1="0" x2="821.2" y2="0"><stop offset="0.000" stop-color="#8d00e4"/><stop offset="0.100" stop-color="#8e00de"/><stop offset="0.200" stop-color="#8e00d2"/><stop offset="0.300" stop-color="#8f00c5"/><stop offset="0.400" stop-color="#8f00be"/><stop offset="0.500" stop-color="#8f00b7"/><stop offset="0.600" stop-color="#9000af"/><stop offset="0.700" stop-color="#9000a8"/><stop offset="0.800" stop-color="#9000a1"/><stop offset="0.900" stop-color="#91009a"/><stop offset="1.000" stop-color="#910093"/></linearGradient><linearGradient id="rg7" gradientUnits="userSpaceOnUse" x1="1051.8" y1="0" x2="815.0" y2="0"><stop offset="0.000" stop-color="#8e00c9"/><stop offset="0.100" stop-color="#8f00c5"/><stop offset="0.200" stop-color="#8f00bd"/><stop offset="0.300" stop-color="#8f00b4"/><stop offset="0.400" stop-color="#9000af"/><stop offset="0.500" stop-color="#9000aa"/><stop offset="0.600" stop-color="#9000a5"/><stop offset="0.700" stop-color="#9000a0"/><stop offset="0.800" stop-color="#91009b"/><stop offset="0.900" stop-color="#910097"/><stop offset="1.000" stop-color="#910093"/></linearGradient><linearGradient id="rg6" gradientUnits="userSpaceOnUse" x1="1045.7" y1="0" x2="808.8" y2="0"><stop offset="0.000" stop-color="#8f00c3"/><stop offset="0.100" stop-color="#8f00b3"/><stop offset="0.200" stop-color="#9000ad"/><stop offset="0.300" stop-color="#9000a8"/><stop offset="0.400" stop-color="#9000a4"/><stop offset="0.500" stop-color="#9000a1"/><stop offset="0.600" stop-color="#90009e"/><stop offset="0.700" stop-color="#91009b"/><stop offset="0.800" stop-color="#910098"/><stop offset="0.900" stop-color="#910095"/><stop offset="1.000" stop-color="#910092"/></linearGradient><linearGradient id="rg5" gradientUnits="userSpaceOnUse" x1="1039.5" y1="0" x2="802.7" y2="0"><stop offset="0.000" stop-color="#8f00bf"/><stop offset="0.100" stop-color="#9000b1"/><stop offset="0.200" stop-color="#9000a4"/><stop offset="0.300" stop-color="#90009f"/><stop offset="0.400" stop-color="#90009d"/><stop offset="0.500" stop-color="#91009b"/><stop offset="0.600" stop-color="#910099"/><stop offset="0.700" stop-color="#910097"/><stop offset="0.800" stop-color="#910095"/><stop offset="0.900" stop-color="#910093"/><stop offset="1.000" stop-color="#910092"/></linearGradient><linearGradient id="rg4" gradientUnits="userSpaceOnUse" x1="1033.3" y1="0" x2="796.5" y2="0"><stop offset="0.000" stop-color="#8f00bb"/><stop offset="0.100" stop-color="#9000ae"/><stop offset="0.200" stop-color="#9000a2"/><stop offset="0.300" stop-color="#910099"/><stop offset="0.400" stop-color="#910098"/><stop offset="0.500" stop-color="#910097"/><stop offset="0.600" stop-color="#910096"/><stop offset="0.700" stop-color="#910095"/><stop offset="0.800" stop-color="#910093"/><stop offset="0.900" stop-color="#910092"/><stop offset="1.000" stop-color="#910091"/></linearGradient><linearGradient id="rg3" gradientUnits="userSpaceOnUse" x1="1027.1" y1="0" x2="790.3" y2="0"><stop offset="0.000" stop-color="#8f00b7"/><stop offset="0.100" stop-color="#9000ab"/><stop offset="0.200" stop-color="#9000a0"/><stop offset="0.300" stop-color="#910097"/><stop offset="0.400" stop-color="#910095"/><stop offset="0.500" stop-color="#910094"/><stop offset="0.600" stop-color="#910094"/><stop offset="0.700" stop-color="#910093"/><stop offset="0.800" stop-color="#910092"/><stop offset="0.900" stop-color="#910092"/><stop offset="1.000" stop-color="#910091"/></linearGradient><linearGradient id="rg2" gradientUnits="userSpaceOnUse" x1="1020.9" y1="0" x2="784.1" y2="0"><stop offset="0.000" stop-color="#8f00b3"/><stop offset="0.100" stop-color="#9000a8"/><stop offset="0.200" stop-color="#90009e"/><stop offset="0.300" stop-color="#910096"/><stop offset="0.400" stop-color="#910093"/><stop offset="0.500" stop-color="#910093"/><stop offset="0.600" stop-color="#910092"/><stop offset="0.700" stop-color="#910092"/><stop offset="0.800" stop-color="#910092"/><stop offset="0.900" stop-color="#910091"/><stop offset="1.000" stop-color="#910091"/></linearGradient><linearGradient id="rg1" gradientUnits="userSpaceOnUse" x1="1014.7" y1="0" x2="777.9" y2="0"><stop offset="0.000" stop-color="#9000b0"/><stop offset="0.100" stop-color="#9000a5"/><stop offset="0.200" stop-color="#91009c"/><stop offset="0.300" stop-color="#910095"/><stop offset="0.400" stop-color="#910092"/><stop offset="0.500" stop-color="#910092"/><stop offset="0.600" stop-color="#910092"/><stop offset="0.700" stop-color="#910092"/><stop offset="0.800" stop-color="#910091"/><stop offset="0.900" stop-color="#910091"/><stop offset="1.000" stop-color="#910091"/></linearGradient><clipPath id="rclip"><polygon points="687.4,2319.6 687.4,1900 1400,1900 1400,2600 900,2600"/></clipPath></defs>
<g clip-path="url(#rclip)">
<polygon points="1190.9,2186.3 1179.1,2184.4 1167.2,2183.5 1155.4,2183.9 1143.5,2185.9 1131.7,2188.9 1119.9,2189.3 1108.0,2188.3 1096.2,2187.3 1084.3,2186.4 1072.5,2185.6 1060.7,2184.8 1048.8,2183.9 1037.0,2182.9 1025.1,2182.0 1013.3,2181.0 1001.5,2180.0 989.6,2178.8 977.8,2177.7 965.9,2176.5 954.1,2174.9 960.3,2171.9 972.1,2174.1 984.0,2175.8 995.8,2177.4 1007.6,2179.1 1019.5,2180.7 1031.3,2182.2 1043.2,2183.8 1055.0,2185.3 1066.8,2186.8 1078.7,2188.2 1090.5,2189.6 1102.4,2191.0 1114.2,2192.6 1126.0,2194.2 1137.9,2194.6 1149.7,2192.8 1161.6,2191.9 1173.4,2192.3 1185.2,2193.7 1197.1,2196.0" fill="url(#rg30)" stroke="url(#rg30)" stroke-width="1"/><polygon points="1184.7,2175.3 1172.9,2173.9 1161.0,2173.6 1149.2,2174.9 1137.4,2178.0 1125.5,2182.3 1113.7,2183.7 1101.8,2183.2 1090.0,2182.8 1078.2,2182.6 1066.3,2182.5 1054.5,2182.3 1042.6,2182.1 1030.8,2181.7 1019.0,2181.3 1007.1,2181.0 995.3,2180.6 983.4,2180.1 971.6,2179.5 959.8,2178.9 947.9,2177.7 954.1,2174.9 965.9,2176.5 977.8,2177.7 989.6,2178.8 1001.5,2180.0 1013.3,2181.0 1025.1,2182.0 1037.0,2182.9 1048.8,2183.9 1060.7,2184.8 1072.5,2185.6 1084.3,2186.4 1096.2,2187.3 1108.0,2188.3 1119.9,2189.3 1131.7,2188.9 1143.5,2185.9 1155.4,2183.9 1167.2,2183.5 1179.1,2184.4 1190.9,2186.3" fill="url(#rg29)" stroke="url(#rg29)" stroke-width="1"/><polygon points="1178.5,2163.3 1166.7,2162.4 1154.9,2162.8 1143.0,2165.0 1131.2,2169.3 1119.3,2175.1 1107.5,2177.4 1095.7,2177.6 1083.8,2177.8 1072.0,2178.3 1060.1,2178.9 1048.3,2179.4 1036.5,2179.8 1024.6,2180.1 1012.8,2180.4 1000.9,2180.7 989.1,2181.0 977.3,2181.1 965.4,2181.2 953.6,2181.3 941.7,2180.6 947.9,2177.7 959.8,2178.9 971.6,2179.5 983.4,2180.1 995.3,2180.6 1007.1,2181.0 1019.0,2181.3 1030.8,2181.7 1042.6,2182.1 1054.5,2182.3 1066.3,2182.5 1078.2,2182.6 1090.0,2182.8 1101.8,2183.2 1113.7,2183.7 1125.5,2182.3 1137.4,2178.0 1149.2,2174.9 1161.0,2173.6 1172.9,2173.9 1184.7,2175.3" fill="url(#rg28)" stroke="url(#rg28)" stroke-width="1"/><polygon points="1172.4,2150.5 1160.5,2150.2 1148.7,2151.2 1136.8,2154.4 1125.0,2160.0 1113.2,2167.3 1101.3,2170.6 1089.5,2171.5 1077.6,2172.4 1065.8,2173.6 1054.0,2174.9 1042.1,2176.2 1030.3,2177.3 1018.4,2178.3 1006.6,2179.3 994.8,2180.3 982.9,2181.3 971.1,2182.1 959.2,2182.8 947.4,2183.6 935.6,2183.4 941.7,2180.6 953.6,2181.3 965.4,2181.2 977.3,2181.1 989.1,2181.0 1000.9,2180.7 1012.8,2180.4 1024.6,2180.1 1036.5,2179.8 1048.3,2179.4 1060.1,2178.9 1072.0,2178.3 1083.8,2177.8 1095.7,2177.6 1107.5,2177.4 1119.3,2175.1 1131.2,2169.3 1143.0,2165.0 1154.9,2162.8 1166.7,2162.4 1178.5,2163.3" fill="url(#rg27)" stroke="url(#rg27)" stroke-width="1"/><polygon points="1166.2,2137.3 1154.3,2137.5 1142.5,2139.3 1130.7,2143.5 1118.8,2150.4 1107.0,2159.2 1095.1,2163.5 1083.3,2165.1 1071.5,2166.7 1059.6,2168.7 1047.8,2170.8 1035.9,2172.8 1024.1,2174.7 1012.3,2176.4 1000.4,2178.1 988.6,2179.8 976.7,2181.5 964.9,2183.0 953.1,2184.4 941.2,2185.8 929.4,2186.3 935.6,2183.4 947.4,2183.6 959.2,2182.8 971.1,2182.1 982.9,2181.3 994.8,2180.3 1006.6,2179.3 1018.4,2178.3 1030.3,2177.3 1042.1,2176.2 1054.0,2174.9 1065.8,2173.6 1077.6,2172.4 1089.5,2171.5 1101.3,2170.6 1113.2,2167.3 1125.0,2160.0 1136.8,2154.4 1148.7,2151.2 1160.5,2150.2 1172.4,2150.5" fill="url(#rg26)" stroke="url(#rg26)" stroke-width="1"/><polygon points="1160.0,2124.1 1148.2,2124.8 1136.3,2127.4 1124.5,2132.5 1112.6,2140.8 1100.8,2151.1 1089.0,2156.5 1077.1,2158.8 1065.3,2161.1 1053.4,2163.9 1041.6,2166.6 1029.8,2169.4 1017.9,2172.0 1006.1,2174.4 994.2,2176.9 982.4,2179.3 970.6,2181.7 958.7,2183.8 946.9,2186.0 935.0,2188.1 923.2,2189.1 929.4,2186.3 941.2,2185.8 953.1,2184.4 964.9,2183.0 976.7,2181.5 988.6,2179.8 1000.4,2178.1 1012.3,2176.4 1024.1,2174.7 1035.9,2172.8 1047.8,2170.8 1059.6,2168.7 1071.5,2166.7 1083.3,2165.1 1095.1,2163.5 1107.0,2159.2 1118.8,2150.4 1130.7,2143.5 1142.5,2139.3 1154.3,2137.5 1166.2,2137.3" fill="url(#rg25)" stroke="url(#rg25)" stroke-width="1"/><polygon points="1153.8,2111.4 1142.0,2112.6 1130.1,2115.9 1118.3,2122.0 1106.5,2131.6 1094.6,2143.4 1082.8,2149.7 1070.9,2152.7 1059.1,2155.7 1047.3,2159.2 1035.4,2162.7 1023.6,2166.2 1011.7,2169.5 999.9,2172.7 988.1,2175.8 976.2,2178.9 964.4,2182.0 952.5,2184.8 940.7,2187.6 928.9,2190.3 917.0,2191.9 923.2,2189.1 935.0,2188.1 946.9,2186.0 958.7,2183.8 970.6,2181.7 982.4,2179.3 994.2,2176.9 1006.1,2174.4 1017.9,2172.0 1029.8,2169.4 1041.6,2166.6 1053.4,2163.9 1065.3,2161.1 1077.1,2158.8 1089.0,2156.5 1100.8,2151.1 1112.6,2140.8 1124.5,2132.5 1136.3,2127.4 1148.2,2124.8 1160.0,2124.1" fill="url(#rg24)" stroke="url(#rg24)" stroke-width="1"/><polygon points="1147.6,2099.7 1135.8,2101.4 1124.0,2105.3 1112.1,2112.3 1100.3,2123.1 1088.4,2136.3 1076.6,2143.6 1064.8,2147.2 1052.9,2150.8 1041.1,2155.0 1029.2,2159.2 1017.4,2163.4 1005.6,2167.4 993.7,2171.2 981.9,2174.9 970.0,2178.7 958.2,2182.5 946.4,2185.9 934.5,2189.3 922.7,2192.7 910.8,2194.8 917.0,2191.9 928.9,2190.3 940.7,2187.6 952.5,2184.8 964.4,2182.0 976.2,2178.9 988.1,2175.8 999.9,2172.7 1011.7,2169.5 1023.6,2166.2 1035.4,2162.7 1047.3,2159.2 1059.1,2155.7 1070.9,2152.7 1082.8,2149.7 1094.6,2143.4 1106.5,2131.6 1118.3,2122.0 1130.1,2115.9 1142.0,2112.6 1153.8,2111.4" fill="url(#rg23)" stroke="url(#rg23)" stroke-width="1"/><polygon points="1141.5,2089.4 1129.6,2091.5 1117.8,2096.1 1105.9,2103.9 1094.1,2115.8 1082.3,2130.3 1070.4,2138.4 1058.6,2142.5 1046.7,2146.8 1034.9,2151.6 1023.1,2156.4 1011.2,2161.2 999.4,2165.8 987.5,2170.2 975.7,2174.5 963.9,2178.9 952.0,2183.3 940.2,2187.2 928.3,2191.2 916.5,2195.1 904.6,2197.7 910.8,2194.8 922.7,2192.7 934.5,2189.3 946.4,2185.9 958.2,2182.5 970.0,2178.7 981.9,2174.9 993.7,2171.2 1005.6,2167.4 1017.4,2163.4 1029.2,2159.2 1041.1,2155.0 1052.9,2150.8 1064.8,2147.2 1076.6,2143.6 1088.4,2136.3 1100.3,2123.1 1112.1,2112.3 1124.0,2105.3 1135.8,2101.4 1147.6,2099.7" fill="url(#rg22)" stroke="url(#rg22)" stroke-width="1"/><polygon points="1135.3,2081.1 1123.4,2083.6 1111.6,2088.7 1099.8,2097.2 1087.9,2110.0 1076.1,2125.6 1064.2,2134.4 1052.4,2139.1 1040.6,2143.8 1028.7,2149.1 1016.9,2154.4 1005.0,2159.8 993.2,2164.9 981.3,2169.8 969.5,2174.6 957.7,2179.5 945.8,2184.4 934.0,2188.8 922.1,2193.3 910.3,2197.7 898.5,2200.7 904.6,2197.7 916.5,2195.1 928.3,2191.2 940.2,2187.2 952.0,2183.3 963.9,2178.9 975.7,2174.5 987.5,2170.2 999.4,2165.8 1011.2,2161.2 1023.1,2156.4 1034.9,2151.6 1046.7,2146.8 1058.6,2142.5 1070.4,2138.4 1082.3,2130.3 1094.1,2115.8 1105.9,2103.9 1117.8,2096.1 1129.6,2091.5 1141.5,2089.4" fill="url(#rg21)" stroke="url(#rg21)" stroke-width="1"/><polygon points="1129.1,2075.3 1117.3,2078.1 1105.4,2083.5 1093.6,2092.6 1081.7,2106.1 1069.9,2122.6 1058.1,2131.9 1046.2,2137.0 1034.4,2142.1 1022.5,2147.9 1010.7,2153.6 998.8,2159.3 987.0,2164.9 975.2,2170.2 963.3,2175.4 951.5,2180.7 939.6,2186.0 927.8,2190.8 916.0,2195.6 904.1,2200.4 892.3,2203.7 898.5,2200.7 910.3,2197.7 922.1,2193.3 934.0,2188.8 945.8,2184.4 957.7,2179.5 969.5,2174.6 981.3,2169.8 993.2,2164.9 1005.0,2159.8 1016.9,2154.4 1028.7,2149.1 1040.6,2143.8 1052.4,2139.1 1064.2,2134.4 1076.1,2125.6 1087.9,2110.0 1099.8,2097.2 1111.6,2088.7 1123.4,2083.6 1135.3,2081.1" fill="url(#rg20)" stroke="url(#rg20)" stroke-width="1"/><polygon points="1122.9,2072.1 1111.1,2075.2 1099.2,2080.9 1087.4,2090.4 1075.6,2104.4 1063.7,2121.5 1051.9,2131.2 1040.0,2136.5 1028.2,2141.9 1016.3,2148.0 1004.5,2154.0 992.7,2160.0 980.8,2165.9 969.0,2171.4 957.1,2177.0 945.3,2182.5 933.5,2188.0 921.6,2193.1 909.8,2198.2 897.9,2203.3 886.1,2206.8 892.3,2203.7 904.1,2200.4 916.0,2195.6 927.8,2190.8 939.6,2186.0 951.5,2180.7 963.3,2175.4 975.2,2170.2 987.0,2164.9 998.8,2159.3 1010.7,2153.6 1022.5,2147.9 1034.4,2142.1 1046.2,2137.0 1058.1,2131.9 1069.9,2122.6 1081.7,2106.1 1093.6,2092.6 1105.4,2083.5 1117.3,2078.1 1129.1,2075.3" fill="url(#rg19)" stroke="url(#rg19)" stroke-width="1"/><polygon points="1116.7,2072.0 1104.9,2075.2 1093.1,2081.0 1081.2,2090.7 1069.4,2105.1 1057.5,2122.4 1045.7,2132.4 1033.8,2137.8 1022.0,2143.4 1010.2,2149.6 998.3,2155.8 986.5,2161.9 974.6,2167.9 962.8,2173.6 951.0,2179.3 939.1,2185.0 927.3,2190.7 915.4,2195.9 903.6,2201.1 891.8,2206.4 879.9,2210.0 886.1,2206.8 897.9,2203.3 909.8,2198.2 921.6,2193.1 933.5,2188.0 945.3,2182.5 957.1,2177.0 969.0,2171.4 980.8,2165.9 992.7,2160.0 1004.5,2154.0 1016.3,2148.0 1028.2,2141.9 1040.0,2136.5 1051.9,2131.2 1063.7,2121.5 1075.6,2104.4 1087.4,2090.4 1099.2,2080.9 1111.1,2075.2 1122.9,2072.1" fill="url(#rg18)" stroke="url(#rg18)" stroke-width="1"/><polygon points="1110.6,2075.7 1098.7,2078.8 1086.9,2084.7 1075.0,2094.4 1063.2,2108.6 1051.3,2126.0 1039.5,2135.9 1027.7,2141.4 1015.8,2146.9 1004.0,2153.1 992.1,2159.2 980.3,2165.4 968.5,2171.4 956.6,2177.0 944.8,2182.7 932.9,2188.4 921.1,2194.0 909.3,2199.3 897.4,2204.5 885.6,2209.7 873.7,2213.3 879.9,2210.0 891.8,2206.4 903.6,2201.1 915.4,2195.9 927.3,2190.7 939.1,2185.0 951.0,2179.3 962.8,2173.6 974.6,2167.9 986.5,2161.9 998.3,2155.8 1010.2,2149.6 1022.0,2143.4 1033.8,2137.8 1045.7,2132.4 1057.5,2122.4 1069.4,2105.1 1081.2,2090.7 1093.1,2081.0 1104.9,2075.2 1116.7,2072.0" fill="url(#rg17)" stroke="url(#rg17)" stroke-width="1"/><polygon points="1104.4,2088.0 1092.5,2090.8 1080.7,2096.3 1068.8,2105.4 1057.0,2119.0 1045.2,2135.4 1033.3,2144.8 1021.5,2149.9 1009.6,2155.0 997.8,2160.8 986.0,2166.6 974.1,2172.3 962.3,2177.9 950.4,2183.2 938.6,2188.4 926.8,2193.7 914.9,2199.0 903.1,2203.9 891.2,2208.7 879.4,2213.5 867.6,2216.8 873.7,2213.3 885.6,2209.7 897.4,2204.5 909.3,2199.3 921.1,2194.0 932.9,2188.4 944.8,2182.7 956.6,2177.0 968.5,2171.4 980.3,2165.4 992.1,2159.2 1004.0,2153.1 1015.8,2146.9 1027.7,2141.4 1039.5,2135.9 1051.3,2126.0 1063.2,2108.6 1075.0,2094.4 1086.9,2084.7 1098.7,2078.8 1110.6,2075.7" fill="url(#rg16)" stroke="url(#rg16)" stroke-width="1"/><polygon points="1098.2,2108.9 1086.3,2111.1 1074.5,2115.8 1062.7,2123.9 1050.8,2136.0 1039.0,2150.8 1027.1,2159.1 1015.3,2163.5 1003.5,2167.9 991.6,2172.8 979.8,2177.8 967.9,2182.7 956.1,2187.5 944.3,2192.0 932.4,2196.5 920.6,2201.1 908.7,2205.6 896.9,2209.7 885.1,2213.8 873.2,2217.9 861.4,2220.6 867.6,2216.8 879.4,2213.5 891.2,2208.7 903.1,2203.9 914.9,2199.0 926.8,2193.7 938.6,2188.4 950.4,2183.2 962.3,2177.9 974.1,2172.3 986.0,2166.6 997.8,2160.8 1009.6,2155.0 1021.5,2149.9 1033.3,2144.8 1045.2,2135.4 1057.0,2119.0 1068.8,2105.4 1080.7,2096.3 1092.5,2090.8 1104.4,2088.0" fill="url(#rg15)" stroke="url(#rg15)" stroke-width="1"/><polygon points="1092.0,2136.3 1080.2,2137.7 1068.3,2141.3 1056.5,2147.9 1044.6,2158.1 1032.8,2170.7 1021.0,2177.5 1009.1,2180.8 997.3,2184.2 985.4,2188.1 973.6,2191.9 961.8,2195.8 949.9,2199.5 938.1,2202.9 926.2,2206.4 914.4,2209.9 902.6,2213.4 890.7,2216.5 878.9,2219.6 867.0,2222.7 855.2,2224.5 861.4,2220.6 873.2,2217.9 885.1,2213.8 896.9,2209.7 908.7,2205.6 920.6,2201.1 932.4,2196.5 944.3,2192.0 956.1,2187.5 967.9,2182.7 979.8,2177.8 991.6,2172.8 1003.5,2167.9 1015.3,2163.5 1027.1,2159.1 1039.0,2150.8 1050.8,2136.0 1062.7,2123.9 1074.5,2115.8 1086.3,2111.1 1098.2,2108.9" fill="url(#rg14)" stroke="url(#rg14)" stroke-width="1"/><polygon points="1085.8,2167.5 1074.0,2168.1 1062.1,2170.5 1050.3,2175.4 1038.5,2183.3 1026.6,2193.3 1014.8,2198.4 1002.9,2200.5 991.1,2202.6 979.3,2205.2 967.4,2207.8 955.6,2210.4 943.7,2212.8 931.9,2215.1 920.1,2217.4 908.2,2219.6 896.4,2221.9 884.5,2223.8 872.7,2225.8 860.9,2227.7 849.0,2228.6 855.2,2224.5 867.0,2222.7 878.9,2219.6 890.7,2216.5 902.6,2213.4 914.4,2209.9 926.2,2206.4 938.1,2202.9 949.9,2199.5 961.8,2195.8 973.6,2191.9 985.4,2188.1 997.3,2184.2 1009.1,2180.8 1021.0,2177.5 1032.8,2170.7 1044.6,2158.1 1056.5,2147.9 1068.3,2141.3 1080.2,2137.7 1092.0,2136.3" fill="url(#rg13)" stroke="url(#rg13)" stroke-width="1"/><polygon points="1079.6,2199.9 1067.8,2199.5 1056.0,2200.6 1044.1,2203.8 1032.3,2209.4 1020.4,2216.6 1008.6,2219.9 996.8,2220.8 984.9,2221.7 973.1,2223.0 961.2,2224.2 949.4,2225.5 937.6,2226.6 925.7,2227.6 913.9,2228.6 902.0,2229.6 890.2,2230.6 878.4,2231.3 866.5,2232.1 854.7,2232.8 842.8,2232.7 849.0,2228.6 860.9,2227.7 872.7,2225.8 884.5,2223.8 896.4,2221.9 908.2,2219.6 920.1,2217.4 931.9,2215.1 943.7,2212.8 955.6,2210.4 967.4,2207.8 979.3,2205.2 991.1,2202.6 1002.9,2200.5 1014.8,2198.4 1026.6,2193.3 1038.5,2183.3 1050.3,2175.4 1062.1,2170.5 1074.0,2168.1 1085.8,2167.5" fill="url(#rg12)" stroke="url(#rg12)" stroke-width="1"/><polygon points="1073.5,2231.0 1061.6,2229.8 1049.8,2229.6 1037.9,2231.1 1026.1,2234.4 1014.3,2239.1 1002.4,2240.7 990.6,2240.4 978.7,2240.1 966.9,2240.1 955.1,2240.0 943.2,2240.0 931.4,2239.9 919.5,2239.7 907.7,2239.5 895.9,2239.3 884.0,2239.1 872.2,2238.7 860.3,2238.2 848.5,2237.8 836.7,2236.8 842.8,2232.7 854.7,2232.8 866.5,2232.1 878.4,2231.3 890.2,2230.6 902.0,2229.6 913.9,2228.6 925.7,2227.6 937.6,2226.6 949.4,2225.5 961.2,2224.2 973.1,2223.0 984.9,2221.7 996.8,2220.8 1008.6,2219.9 1020.4,2216.6 1032.3,2209.4 1044.1,2203.8 1056.0,2200.6 1067.8,2199.5 1079.6,2199.9" fill="url(#rg11)" stroke="url(#rg11)" stroke-width="1"/><polygon points="1067.3,2259.1 1055.4,2257.0 1043.6,2255.8 1031.8,2255.7 1019.9,2257.1 1008.1,2259.5 996.2,2259.5 984.4,2258.1 972.6,2256.8 960.7,2255.7 948.9,2254.5 937.0,2253.4 925.2,2252.2 913.4,2250.9 901.5,2249.6 889.7,2248.3 877.8,2247.0 866.0,2245.5 854.2,2244.1 842.3,2242.7 830.5,2240.7 836.7,2236.8 848.5,2237.8 860.3,2238.2 872.2,2238.7 884.0,2239.1 895.9,2239.3 907.7,2239.5 919.5,2239.7 931.4,2239.9 943.2,2240.0 955.1,2240.0 966.9,2240.1 978.7,2240.1 990.6,2240.4 1002.4,2240.7 1014.3,2239.1 1026.1,2234.4 1037.9,2231.1 1049.8,2229.6 1061.6,2229.8 1073.5,2231.0" fill="url(#rg10)" stroke="url(#rg10)" stroke-width="1"/><polygon points="1061.1,2283.2 1049.3,2280.4 1037.4,2278.2 1025.6,2276.9 1013.7,2276.6 1001.9,2277.0 990.1,2275.8 978.2,2273.5 966.4,2271.3 954.5,2269.2 942.7,2267.1 930.9,2265.1 919.0,2262.9 907.2,2260.7 895.3,2258.5 883.5,2256.3 871.7,2254.1 859.8,2251.8 848.0,2249.5 836.1,2247.2 824.3,2244.6 830.5,2240.7 842.3,2242.7 854.2,2244.1 866.0,2245.5 877.8,2247.0 889.7,2248.3 901.5,2249.6 913.4,2250.9 925.2,2252.2 937.0,2253.4 948.9,2254.5 960.7,2255.7 972.6,2256.8 984.4,2258.1 996.2,2259.5 1008.1,2259.5 1019.9,2257.1 1031.8,2255.7 1043.6,2255.8 1055.4,2257.0 1067.3,2259.1" fill="url(#rg9)" stroke="url(#rg9)" stroke-width="1"/><polygon points="1054.9,2302.8 1043.1,2299.5 1031.2,2296.6 1019.4,2294.3 1007.6,2292.7 995.7,2291.6 983.9,2289.3 972.0,2286.4 960.2,2283.5 948.4,2280.6 936.5,2277.8 924.7,2275.0 912.8,2272.1 901.0,2269.2 889.2,2266.3 877.3,2263.4 865.5,2260.5 853.6,2257.5 841.8,2254.5 830.0,2251.5 818.1,2248.3 824.3,2244.6 836.1,2247.2 848.0,2249.5 859.8,2251.8 871.7,2254.1 883.5,2256.3 895.3,2258.5 907.2,2260.7 919.0,2262.9 930.9,2265.1 942.7,2267.1 954.5,2269.2 966.4,2271.3 978.2,2273.5 990.1,2275.8 1001.9,2277.0 1013.7,2276.6 1025.6,2276.9 1037.4,2278.2 1049.3,2280.4 1061.1,2283.2" fill="url(#rg8)" stroke="url(#rg8)" stroke-width="1"/><polygon points="1048.7,2318.3 1036.9,2314.6 1025.1,2311.2 1013.2,2308.1 1001.4,2305.6 989.5,2303.3 977.7,2300.3 965.9,2296.8 954.0,2293.4 942.2,2290.0 930.3,2286.6 918.5,2283.2 906.7,2279.8 894.8,2276.4 883.0,2272.9 871.1,2269.5 859.3,2266.0 847.5,2262.6 835.6,2259.1 823.8,2255.6 811.9,2251.9 818.1,2248.3 830.0,2251.5 841.8,2254.5 853.6,2257.5 865.5,2260.5 877.3,2263.4 889.2,2266.3 901.0,2269.2 912.8,2272.1 924.7,2275.0 936.5,2277.8 948.4,2280.6 960.2,2283.5 972.0,2286.4 983.9,2289.3 995.7,2291.6 1007.6,2292.7 1019.4,2294.3 1031.2,2296.6 1043.1,2299.5 1054.9,2302.8" fill="url(#rg7)" stroke="url(#rg7)" stroke-width="1"/><polygon points="1042.6,2330.2 1030.7,2326.3 1018.9,2322.5 1007.0,2318.9 995.2,2315.6 983.4,2312.5 971.5,2309.0 959.7,2305.2 947.8,2301.3 936.0,2297.6 924.2,2293.8 912.3,2290.0 900.5,2286.2 888.6,2282.4 876.8,2278.6 865.0,2274.7 853.1,2270.9 841.3,2267.1 829.4,2263.2 817.6,2259.4 805.8,2255.5 811.9,2251.9 823.8,2255.6 835.6,2259.1 847.5,2262.6 859.3,2266.0 871.1,2269.5 883.0,2272.9 894.8,2276.4 906.7,2279.8 918.5,2283.2 930.3,2286.6 942.2,2290.0 954.0,2293.4 965.9,2296.8 977.7,2300.3 989.5,2303.3 1001.4,2305.6 1013.2,2308.1 1025.1,2311.2 1036.9,2314.6 1048.7,2318.3" fill="url(#rg6)" stroke="url(#rg6)" stroke-width="1"/><polygon points="1036.4,2339.3 1024.5,2335.2 1012.7,2331.1 1000.9,2327.2 989.0,2323.5 977.2,2319.8 965.3,2315.9 953.5,2311.9 941.7,2307.8 929.8,2303.7 918.0,2299.7 906.1,2295.6 894.3,2291.6 882.5,2287.5 870.6,2283.4 858.8,2279.4 846.9,2275.3 835.1,2271.2 823.3,2267.1 811.4,2263.0 799.6,2258.9 805.8,2255.5 817.6,2259.4 829.4,2263.2 841.3,2267.1 853.1,2270.9 865.0,2274.7 876.8,2278.6 888.6,2282.4 900.5,2286.2 912.3,2290.0 924.2,2293.8 936.0,2297.6 947.8,2301.3 959.7,2305.2 971.5,2309.0 983.4,2312.5 995.2,2315.6 1007.0,2318.9 1018.9,2322.5 1030.7,2326.3 1042.6,2330.2" fill="url(#rg5)" stroke="url(#rg5)" stroke-width="1"/><polygon points="1030.2,2346.4 1018.4,2342.1 1006.5,2337.9 994.7,2333.7 982.8,2329.7 971.0,2325.7 959.2,2321.6 947.3,2317.3 935.5,2313.1 923.6,2308.9 911.8,2304.6 900.0,2300.4 888.1,2296.2 876.3,2292.0 864.4,2287.7 852.6,2283.5 840.8,2279.3 828.9,2275.0 817.1,2270.8 805.2,2266.6 793.4,2262.3 799.6,2258.9 811.4,2263.0 823.3,2267.1 835.1,2271.2 846.9,2275.3 858.8,2279.4 870.6,2283.4 882.5,2287.5 894.3,2291.6 906.1,2295.6 918.0,2299.7 929.8,2303.7 941.7,2307.8 953.5,2311.9 965.3,2315.9 977.2,2319.8 989.0,2323.5 1000.9,2327.2 1012.7,2331.1 1024.5,2335.2 1036.4,2339.3" fill="url(#rg4)" stroke="url(#rg4)" stroke-width="1"/><polygon points="1024.0,2351.9 1012.2,2347.6 1000.3,2343.2 988.5,2339.0 976.7,2334.7 964.8,2330.5 953.0,2326.3 941.1,2321.9 929.3,2317.6 917.5,2313.3 905.6,2309.0 893.8,2304.6 881.9,2300.3 870.1,2296.0 858.3,2291.7 846.4,2287.3 834.6,2283.0 822.7,2278.7 810.9,2274.3 799.0,2270.0 787.2,2265.6 793.4,2262.3 805.2,2266.6 817.1,2270.8 828.9,2275.0 840.8,2279.3 852.6,2283.5 864.4,2287.7 876.3,2292.0 888.1,2296.2 900.0,2300.4 911.8,2304.6 923.6,2308.9 935.5,2313.1 947.3,2317.3 959.2,2321.6 971.0,2325.7 982.8,2329.7 994.7,2333.7 1006.5,2337.9 1018.4,2342.1 1030.2,2346.4" fill="url(#rg3)" stroke="url(#rg3)" stroke-width="1"/><polygon points="1017.8,2356.5 1006.0,2352.1 994.2,2347.8 982.3,2343.4 970.5,2339.1 958.6,2334.7 946.8,2330.4 935.0,2326.0 923.1,2321.6 911.3,2317.2 899.4,2312.8 887.6,2308.5 875.8,2304.1 863.9,2299.7 852.1,2295.3 840.2,2290.9 828.4,2286.5 816.5,2282.1 804.7,2277.7 792.9,2273.4 781.0,2269.0 787.2,2265.6 799.0,2270.0 810.9,2274.3 822.7,2278.7 834.6,2283.0 846.4,2287.3 858.3,2291.7 870.1,2296.0 881.9,2300.3 893.8,2304.6 905.6,2309.0 917.5,2313.3 929.3,2317.6 941.1,2321.9 953.0,2326.3 964.8,2330.5 976.7,2334.7 988.5,2339.0 1000.3,2343.2 1012.2,2347.6 1024.0,2351.9" fill="url(#rg2)" stroke="url(#rg2)" stroke-width="1"/><polygon points="1011.7,2360.6 999.8,2356.1 988.0,2351.7 976.1,2347.3 964.3,2342.9 952.5,2338.5 940.6,2334.1 928.8,2329.7 916.9,2325.3 905.1,2320.9 893.3,2316.5 881.4,2312.0 869.6,2307.6 857.7,2303.2 845.9,2298.8 834.0,2294.4 822.2,2289.9 810.4,2285.5 798.5,2281.1 786.7,2276.7 774.8,2272.3 781.0,2269.0 792.9,2273.4 804.7,2277.7 816.5,2282.1 828.4,2286.5 840.2,2290.9 852.1,2295.3 863.9,2299.7 875.8,2304.1 887.6,2308.5 899.4,2312.8 911.3,2317.2 923.1,2321.6 935.0,2326.0 946.8,2330.4 958.6,2334.7 970.5,2339.1 982.3,2343.4 994.2,2347.8 1006.0,2352.1 1017.8,2356.5" fill="url(#rg1)" stroke="url(#rg1)" stroke-width="1"/>
</g>
<ellipse cx="1160.0" cy="2265.0" rx="117.7" ry="47.1" fill="#7f00ff" transform="rotate(3 1160.0 2265.0)"/>
<ellipse cx="1160.0" cy="2265.0" rx="117.7" ry="47.1" fill="none" stroke="#000" stroke-opacity="0.22" stroke-width="1.6" transform="rotate(3 1160.0 2265.0)"/>
<ellipse cx="1160.0" cy="2262.0" rx="116.7" ry="46.7" fill="#7300ff" transform="rotate(3 1160.0 2262.0)"/>
<ellipse cx="1160.0" cy="2259.0" rx="115.6" ry="46.3" fill="#6600ff" transform="rotate(3 1160.0 2259.0)"/>
<ellipse cx="1160.0" cy="2256.0" rx="114.6" ry="45.8" fill="#5900ff" transform="rotate(3 1160.0 2256.0)"/>
<ellipse cx="1160.0" cy="2253.0" rx="113.5" ry="45.4" fill="#4c00ff" transform="rotate(3 1160.0 2253.0)"/>
<ellipse cx="1160.0" cy="2250.0" rx="112.5" ry="45.0" fill="#4000ff" transform="rotate(3 1160.0 2250.0)"/>
<ellipse cx="1160.0" cy="2247.0" rx="111.4" ry="44.6" fill="#3300ff" transform="rotate(3 1160.0 2247.0)"/>
<ellipse cx="1160.0" cy="2244.0" rx="110.5" ry="44.2" fill="#2600ff" transform="rotate(3 1160.0 2244.0)"/>
<ellipse cx="1160.0" cy="2241.0" rx="109.8" ry="43.9" fill="#1900ff" transform="rotate(3 1160.0 2241.0)"/>
<ellipse cx="1160.0" cy="2238.0" rx="109.0" ry="43.6" fill="#0d00ff" transform="rotate(3 1160.0 2238.0)"/>
<ellipse cx="1160.0" cy="2235.0" rx="108.2" ry="43.3" fill="#0000ff" transform="rotate(3 1160.0 2235.0)"/>
<ellipse cx="1160.0" cy="2232.0" rx="107.4" ry="43.0" fill="#000bff" transform="rotate(3 1160.0 2232.0)"/>
<ellipse cx="1160.0" cy="2229.0" rx="106.7" ry="42.7" fill="#0015ff" transform="rotate(3 1160.0 2229.0)"/>
<ellipse cx="1160.0" cy="2226.0" rx="105.9" ry="42.4" fill="#0020ff" transform="rotate(3 1160.0 2226.0)"/>
<ellipse cx="1160.0" cy="2223.0" rx="105.1" ry="42.0" fill="#002bff" transform="rotate(3 1160.0 2223.0)"/>
<ellipse cx="1160.0" cy="2220.0" rx="104.3" ry="41.7" fill="#0035ff" transform="rotate(3 1160.0 2220.0)"/>
<ellipse cx="1160.0" cy="2217.0" rx="103.6" ry="41.4" fill="#0040ff" transform="rotate(3 1160.0 2217.0)"/>
<ellipse cx="1160.0" cy="2214.0" rx="102.8" ry="41.1" fill="#004aff" transform="rotate(3 1160.0 2214.0)"/>
<ellipse cx="1160.0" cy="2211.0" rx="102.0" ry="40.8" fill="#0055ff" transform="rotate(3 1160.0 2211.0)"/>
<ellipse cx="1160.0" cy="2208.0" rx="101.5" ry="40.6" fill="#0060ff" transform="rotate(3 1160.0 2208.0)"/>
<ellipse cx="1160.0" cy="2205.0" rx="101.0" ry="40.4" fill="#006aff" transform="rotate(3 1160.0 2205.0)"/>
<ellipse cx="1160.0" cy="2205.0" rx="101.0" ry="40.4" fill="none" stroke="#000" stroke-opacity="0.42" stroke-width="1.6" transform="rotate(3 1160.0 2205.0)"/>
<ellipse cx="1160.0" cy="2202.0" rx="100.5" ry="40.2" fill="#0075ff" transform="rotate(3 1160.0 2202.0)"/>
<ellipse cx="1160.0" cy="2199.0" rx="100.0" ry="40.0" fill="#007fff" transform="rotate(3 1160.0 2199.0)"/>
<ellipse cx="1160.0" cy="2196.0" rx="99.5" ry="39.8" fill="#008aff" transform="rotate(3 1160.0 2196.0)"/>
<ellipse cx="1160.0" cy="2193.0" rx="99.1" ry="39.6" fill="#0095ff" transform="rotate(3 1160.0 2193.0)"/>
<ellipse cx="1160.0" cy="2190.0" rx="98.6" ry="39.4" fill="#009fff" transform="rotate(3 1160.0 2190.0)"/>
<ellipse cx="1160.0" cy="2187.0" rx="98.1" ry="39.2" fill="#00aaff" transform="rotate(3 1160.0 2187.0)"/>
<ellipse cx="1160.0" cy="2184.0" rx="97.6" ry="39.0" fill="#00b5ff" transform="rotate(3 1160.0 2184.0)"/>
<ellipse cx="1160.0" cy="2181.0" rx="97.1" ry="38.8" fill="#00bfff" transform="rotate(3 1160.0 2181.0)"/>
<ellipse cx="1160.0" cy="2178.0" rx="96.6" ry="38.6" fill="#00caff" transform="rotate(3 1160.0 2178.0)"/>
<ellipse cx="1160.0" cy="2175.0" rx="96.1" ry="38.4" fill="#00d4ff" transform="rotate(3 1160.0 2175.0)"/>
<ellipse cx="1160.0" cy="2172.0" rx="95.6" ry="38.3" fill="#00dfff" transform="rotate(3 1160.0 2172.0)"/>
<ellipse cx="1160.0" cy="2169.0" rx="95.1" ry="38.1" fill="#00eaff" transform="rotate(3 1160.0 2169.0)"/>
<ellipse cx="1160.0" cy="2166.0" rx="94.6" ry="37.9" fill="#00f4ff" transform="rotate(3 1160.0 2166.0)"/>
<ellipse cx="1160.0" cy="2163.0" rx="94.2" ry="37.7" fill="#00ffff" transform="rotate(3 1160.0 2163.0)"/>
<ellipse cx="1160.0" cy="2160.0" rx="93.7" ry="37.5" fill="#00ffe1" transform="rotate(3 1160.0 2160.0)"/>
<ellipse cx="1160.0" cy="2157.0" rx="93.2" ry="37.3" fill="#00ffc4" transform="rotate(3 1160.0 2157.0)"/>
<ellipse cx="1160.0" cy="2154.0" rx="92.7" ry="37.1" fill="#00ffa6" transform="rotate(3 1160.0 2154.0)"/>
<ellipse cx="1160.0" cy="2151.0" rx="92.2" ry="36.9" fill="#00ff88" transform="rotate(3 1160.0 2151.0)"/>
<ellipse cx="1160.0" cy="2148.0" rx="91.6" ry="36.6" fill="#00ff6b" transform="rotate(3 1160.0 2148.0)"/>
<ellipse cx="1160.0" cy="2145.0" rx="90.9" ry="36.4" fill="#00ff4d" transform="rotate(3 1160.0 2145.0)"/>
<ellipse cx="1160.0" cy="2145.0" rx="90.9" ry="36.4" fill="none" stroke="#000" stroke-opacity="0.42" stroke-width="1.6" transform="rotate(3 1160.0 2145.0)"/>
<ellipse cx="1160.0" cy="2142.0" rx="90.2" ry="36.1" fill="#00ff2f" transform="rotate(3 1160.0 2142.0)"/>
<ellipse cx="1160.0" cy="2139.0" rx="89.5" ry="35.8" fill="#00ff12" transform="rotate(3 1160.0 2139.0)"/>
<ellipse cx="1160.0" cy="2136.0" rx="88.9" ry="35.5" fill="#00ff00" transform="rotate(3 1160.0 2136.0)"/>
<ellipse cx="1160.0" cy="2133.0" rx="88.2" ry="35.3" fill="#00ff00" transform="rotate(3 1160.0 2133.0)"/>
<ellipse cx="1160.0" cy="2130.0" rx="87.5" ry="35.0" fill="#00ff00" transform="rotate(3 1160.0 2130.0)"/>
<ellipse cx="1160.0" cy="2127.0" rx="86.8" ry="34.7" fill="#00ff00" transform="rotate(3 1160.0 2127.0)"/>
<ellipse cx="1160.0" cy="2124.0" rx="86.1" ry="34.5" fill="#00ff00" transform="rotate(3 1160.0 2124.0)"/>
<ellipse cx="1160.0" cy="2121.0" rx="85.5" ry="34.2" fill="#00ff00" transform="rotate(3 1160.0 2121.0)"/>
<ellipse cx="1160.0" cy="2118.0" rx="84.8" ry="33.9" fill="#00ff00" transform="rotate(3 1160.0 2118.0)"/>
<ellipse cx="1160.0" cy="2115.0" rx="84.1" ry="33.6" fill="#00ff00" transform="rotate(3 1160.0 2115.0)"/>
<ellipse cx="1160.0" cy="2112.0" rx="83.4" ry="33.4" fill="#00ff00" transform="rotate(3 1160.0 2112.0)"/>
<ellipse cx="1160.0" cy="2109.0" rx="82.7" ry="33.1" fill="#00ff00" transform="rotate(3 1160.0 2109.0)"/>
<ellipse cx="1160.0" cy="2106.0" rx="82.0" ry="32.8" fill="#00ff00" transform="rotate(3 1160.0 2106.0)"/>
<ellipse cx="1160.0" cy="2103.0" rx="81.4" ry="32.5" fill="#00ff00" transform="rotate(3 1160.0 2103.0)"/>
<ellipse cx="1160.0" cy="2100.0" rx="80.7" ry="32.3" fill="#00ff00" transform="rotate(3 1160.0 2100.0)"/>
<ellipse cx="1160.0" cy="2097.0" rx="80.0" ry="32.0" fill="#00ff00" transform="rotate(3 1160.0 2097.0)"/>
<ellipse cx="1160.0" cy="2094.0" rx="79.3" ry="31.7" fill="#00ff00" transform="rotate(3 1160.0 2094.0)"/>
<ellipse cx="1160.0" cy="2091.0" rx="78.6" ry="31.4" fill="#00ff00" transform="rotate(3 1160.0 2091.0)"/>
<ellipse cx="1160.0" cy="2088.0" rx="77.9" ry="31.2" fill="#00ff00" transform="rotate(3 1160.0 2088.0)"/>
<ellipse cx="1160.0" cy="2085.0" rx="77.2" ry="30.9" fill="#00ff00" transform="rotate(3 1160.0 2085.0)"/>
<ellipse cx="1160.0" cy="2085.0" rx="77.2" ry="30.9" fill="none" stroke="#000" stroke-opacity="0.42" stroke-width="1.6" transform="rotate(3 1160.0 2085.0)"/>
<ellipse cx="1160.0" cy="2082.0" rx="76.5" ry="30.6" fill="#00ff00" transform="rotate(3 1160.0 2082.0)"/>
<ellipse cx="1160.0" cy="2079.0" rx="75.8" ry="30.3" fill="#0eff00" transform="rotate(3 1160.0 2079.0)"/>
<ellipse cx="1160.0" cy="2076.0" rx="75.1" ry="30.0" fill="#1cff00" transform="rotate(3 1160.0 2076.0)"/>
<ellipse cx="1160.0" cy="2073.0" rx="74.3" ry="29.7" fill="#2aff00" transform="rotate(3 1160.0 2073.0)"/>
<ellipse cx="1160.0" cy="2070.0" rx="73.6" ry="29.5" fill="#37ff00" transform="rotate(3 1160.0 2070.0)"/>
<ellipse cx="1160.0" cy="2067.0" rx="72.9" ry="29.2" fill="#45ff00" transform="rotate(3 1160.0 2067.0)"/>
<ellipse cx="1160.0" cy="2064.0" rx="72.2" ry="28.9" fill="#53ff00" transform="rotate(3 1160.0 2064.0)"/>
<ellipse cx="1160.0" cy="2061.0" rx="71.5" ry="28.6" fill="#61ff00" transform="rotate(3 1160.0 2061.0)"/>
<ellipse cx="1160.0" cy="2058.0" rx="70.8" ry="28.3" fill="#6fff00" transform="rotate(3 1160.0 2058.0)"/>
<ellipse cx="1160.0" cy="2055.0" rx="70.1" ry="28.0" fill="#7dff00" transform="rotate(3 1160.0 2055.0)"/>
<ellipse cx="1160.0" cy="2052.0" rx="69.4" ry="27.8" fill="#8bff00" transform="rotate(3 1160.0 2052.0)"/>
<ellipse cx="1160.0" cy="2049.0" rx="68.7" ry="27.5" fill="#98ff00" transform="rotate(3 1160.0 2049.0)"/>
<ellipse cx="1160.0" cy="2046.0" rx="68.0" ry="27.2" fill="#a6ff00" transform="rotate(3 1160.0 2046.0)"/>
<ellipse cx="1160.0" cy="2043.0" rx="67.3" ry="26.9" fill="#b4ff00" transform="rotate(3 1160.0 2043.0)"/>
<ellipse cx="1160.0" cy="2040.0" rx="66.6" ry="26.7" fill="#c2ff00" transform="rotate(3 1160.0 2040.0)"/>
<ellipse cx="1160.0" cy="2037.0" rx="66.1" ry="26.4" fill="#d0ff00" transform="rotate(3 1160.0 2037.0)"/>
<ellipse cx="1160.0" cy="2034.0" rx="65.5" ry="26.2" fill="#deff00" transform="rotate(3 1160.0 2034.0)"/>
<ellipse cx="1160.0" cy="2031.0" rx="64.9" ry="25.9" fill="#ecff00" transform="rotate(3 1160.0 2031.0)"/>
<ellipse cx="1160.0" cy="2028.0" rx="64.3" ry="25.7" fill="#f9ff00" transform="rotate(3 1160.0 2028.0)"/>
<ellipse cx="1160.0" cy="2025.0" rx="63.7" ry="25.5" fill="#fffb00" transform="rotate(3 1160.0 2025.0)"/>
<ellipse cx="1160.0" cy="2025.0" rx="63.7" ry="25.5" fill="none" stroke="#000" stroke-opacity="0.42" stroke-width="1.6" transform="rotate(3 1160.0 2025.0)"/>
<ellipse cx="1160.0" cy="2022.0" rx="63.1" ry="25.2" fill="#fff300" transform="rotate(3 1160.0 2022.0)"/>
<ellipse cx="1160.0" cy="2019.0" rx="62.5" ry="25.0" fill="#ffec00" transform="rotate(3 1160.0 2019.0)"/>
<ellipse cx="1160.0" cy="2016.0" rx="61.9" ry="24.8" fill="#ffe500" transform="rotate(3 1160.0 2016.0)"/>
<ellipse cx="1160.0" cy="2013.0" rx="61.3" ry="24.5" fill="#ffde00" transform="rotate(3 1160.0 2013.0)"/>
<ellipse cx="1160.0" cy="2010.0" rx="60.7" ry="24.3" fill="#ffd700" transform="rotate(3 1160.0 2010.0)"/>
<ellipse cx="1160.0" cy="2007.0" rx="60.1" ry="24.1" fill="#ffcf00" transform="rotate(3 1160.0 2007.0)"/>
<ellipse cx="1160.0" cy="2004.0" rx="59.6" ry="23.8" fill="#ffc800" transform="rotate(3 1160.0 2004.0)"/>
<ellipse cx="1160.0" cy="2001.0" rx="59.0" ry="23.6" fill="#ffc100" transform="rotate(3 1160.0 2001.0)"/>
<ellipse cx="1160.0" cy="1998.0" rx="58.4" ry="23.3" fill="#ffba00" transform="rotate(3 1160.0 1998.0)"/>
<ellipse cx="1160.0" cy="1995.0" rx="57.8" ry="23.1" fill="#ffb300" transform="rotate(3 1160.0 1995.0)"/>
<ellipse cx="1160.0" cy="1992.0" rx="57.2" ry="22.9" fill="#ffab00" transform="rotate(3 1160.0 1992.0)"/>
<ellipse cx="1160.0" cy="1989.0" rx="56.6" ry="22.6" fill="#ffa400" transform="rotate(3 1160.0 1989.0)"/>
<ellipse cx="1160.0" cy="1986.0" rx="56.0" ry="22.4" fill="#ff9d00" transform="rotate(3 1160.0 1986.0)"/>
<ellipse cx="1160.0" cy="1983.0" rx="55.4" ry="22.2" fill="#ff9600" transform="rotate(3 1160.0 1983.0)"/>
<ellipse cx="1160.0" cy="1980.0" rx="54.8" ry="21.9" fill="#ff8e00" transform="rotate(3 1160.0 1980.0)"/>
<ellipse cx="1160.0" cy="1977.0" rx="54.2" ry="21.7" fill="#ff8700" transform="rotate(3 1160.0 1977.0)"/>
<ellipse cx="1160.0" cy="1974.0" rx="53.8" ry="21.5" fill="#ff8000" transform="rotate(3 1160.0 1974.0)"/>
<ellipse cx="1160.0" cy="1971.0" rx="53.3" ry="21.3" fill="#ff7500" transform="rotate(3 1160.0 1971.0)"/>
<ellipse cx="1160.0" cy="1968.0" rx="52.9" ry="21.2" fill="#ff6b00" transform="rotate(3 1160.0 1968.0)"/>
<ellipse cx="1160.0" cy="1965.0" rx="52.5" ry="21.0" fill="#ff6000" transform="rotate(3 1160.0 1965.0)"/>
<ellipse cx="1160.0" cy="1965.0" rx="52.5" ry="21.0" fill="none" stroke="#000" stroke-opacity="0.42" stroke-width="1.6" transform="rotate(3 1160.0 1965.0)"/>
<ellipse cx="1160.0" cy="1962.0" rx="52.1" ry="20.8" fill="#ff5500" transform="rotate(3 1160.0 1962.0)"/>
<ellipse cx="1160.0" cy="1959.0" rx="51.7" ry="20.7" fill="#ff4b00" transform="rotate(3 1160.0 1959.0)"/>
<ellipse cx="1160.0" cy="1956.0" rx="51.3" ry="20.5" fill="#ff4000" transform="rotate(3 1160.0 1956.0)"/>
<ellipse cx="1160.0" cy="1953.0" rx="50.9" ry="20.3" fill="#ff3500" transform="rotate(3 1160.0 1953.0)"/>
<ellipse cx="1160.0" cy="1950.0" rx="50.4" ry="20.2" fill="#ff2b00" transform="rotate(3 1160.0 1950.0)"/>
<ellipse cx="1160.0" cy="1947.0" rx="50.0" ry="20.0" fill="#ff2000" transform="rotate(3 1160.0 1947.0)"/>
<ellipse cx="1160.0" cy="1944.0" rx="49.6" ry="19.8" fill="#ff1500" transform="rotate(3 1160.0 1944.0)"/>
<ellipse cx="1160.0" cy="1941.0" rx="49.2" ry="19.7" fill="#ff0b00" transform="rotate(3 1160.0 1941.0)"/>
<ellipse cx="1160.0" cy="1938.0" rx="48.8" ry="19.5" fill="#ff0000" transform="rotate(3 1160.0 1938.0)"/>
<ellipse cx="1160.0" cy="1935.0" rx="48.4" ry="19.4" fill="#ff0000" transform="rotate(3 1160.0 1935.0)"/>
<ellipse cx="1160.0" cy="1932.0" rx="48.0" ry="19.2" fill="#ff0000" transform="rotate(3 1160.0 1932.0)"/>
<ellipse cx="1160.0" cy="1929.0" rx="47.6" ry="19.0" fill="#ff0000" transform="rotate(3 1160.0 1929.0)"/>
<ellipse cx="1160.0" cy="1926.0" rx="47.1" ry="18.9" fill="#ff0000" transform="rotate(3 1160.0 1926.0)"/>
<ellipse cx="1160.0" cy="1923.0" rx="46.7" ry="18.7" fill="#ff0000" transform="rotate(3 1160.0 1923.0)"/>
<ellipse cx="1160.0" cy="1920.0" rx="46.3" ry="18.5" fill="#ff0000" transform="rotate(3 1160.0 1920.0)"/>
<ellipse cx="1160.0" cy="1917.0" rx="45.9" ry="18.4" fill="#ff0000" transform="rotate(3 1160.0 1917.0)"/>
<ellipse cx="1160.0" cy="1914.0" rx="45.5" ry="18.2" fill="#ff0000" transform="rotate(3 1160.0 1914.0)"/>
<ellipse cx="1160.0" cy="1911.0" rx="45.1" ry="18.0" fill="#ff0000" transform="rotate(3 1160.0 1911.0)"/>
<ellipse cx="1160.0" cy="1908.0" rx="44.7" ry="17.9" fill="#ff0000" transform="rotate(3 1160.0 1908.0)"/>
<ellipse cx="1160.0" cy="1905.0" rx="44.2" ry="17.7" fill="#ff0000" transform="rotate(3 1160.0 1905.0)"/>
<ellipse cx="1160.0" cy="1905.0" rx="44.2" ry="17.7" fill="none" stroke="#000" stroke-opacity="0.07" stroke-width="1.6" transform="rotate(3 1160.0 1905.0)"/>
<ellipse cx="1160.0" cy="1902.0" rx="43.7" ry="17.5" fill="#ff0000" transform="rotate(3 1160.0 1902.0)"/>
<ellipse cx="1160.0" cy="1899.0" rx="43.2" ry="17.3" fill="#ff0000" transform="rotate(3 1160.0 1899.0)"/>
<ellipse cx="1160.0" cy="1896.0" rx="42.7" ry="17.1" fill="#ff0000" transform="rotate(3 1160.0 1896.0)"/>
<ellipse cx="1160.0" cy="1893.0" rx="42.2" ry="16.9" fill="#ff0000" transform="rotate(3 1160.0 1893.0)"/>
<ellipse cx="1160.0" cy="1890.0" rx="41.7" ry="16.7" fill="#ff0000" transform="rotate(3 1160.0 1890.0)"/>
<ellipse cx="1160.0" cy="1887.0" rx="41.2" ry="16.5" fill="#ff0000" transform="rotate(3 1160.0 1887.0)"/>
<ellipse cx="1160.0" cy="1884.0" rx="40.7" ry="16.3" fill="#ff0000" transform="rotate(3 1160.0 1884.0)"/>
<ellipse cx="1160.0" cy="1881.0" rx="40.2" ry="16.1" fill="#ff0000" transform="rotate(3 1160.0 1881.0)"/>
<ellipse cx="1160.0" cy="1878.0" rx="39.7" ry="15.9" fill="#ff0000" transform="rotate(3 1160.0 1878.0)"/>
<ellipse cx="1160.0" cy="1875.0" rx="39.2" ry="15.7" fill="#ff0000" transform="rotate(3 1160.0 1875.0)"/>
<ellipse cx="1160.0" cy="1872.0" rx="38.7" ry="15.5" fill="#ff0000" transform="rotate(3 1160.0 1872.0)"/>
<ellipse cx="1160.0" cy="1869.0" rx="38.2" ry="15.3" fill="#ff0000" transform="rotate(3 1160.0 1869.0)"/>
<ellipse cx="1160.0" cy="1866.0" rx="37.7" ry="15.1" fill="#ff0000" transform="rotate(3 1160.0 1866.0)"/>
<ellipse cx="1160.0" cy="1863.0" rx="37.2" ry="14.9" fill="#ff0000" transform="rotate(3 1160.0 1863.0)"/>
<ellipse cx="1160.0" cy="1860.0" rx="36.7" ry="14.7" fill="#ff0000" transform="rotate(3 1160.0 1860.0)"/>
<ellipse cx="1160.0" cy="1857.0" rx="36.2" ry="14.5" fill="#ff0000" transform="rotate(3 1160.0 1857.0)"/>
<ellipse cx="1160.0" cy="1854.0" rx="35.7" ry="14.3" fill="#ff0000" transform="rotate(3 1160.0 1854.0)"/>
<ellipse cx="1160.0" cy="1851.0" rx="35.2" ry="14.1" fill="#ff0000" transform="rotate(3 1160.0 1851.0)"/>
<ellipse cx="1160.0" cy="1848.0" rx="34.7" ry="13.9" fill="#ff0000" transform="rotate(3 1160.0 1848.0)"/>
<ellipse cx="1160.0" cy="1845.0" rx="34.2" ry="13.7" fill="#ff0000" transform="rotate(3 1160.0 1845.0)"/>
<ellipse cx="1160.0" cy="1845.0" rx="34.2" ry="13.7" fill="none" stroke="#000" stroke-opacity="0.07" stroke-width="1.6" transform="rotate(3 1160.0 1845.0)"/>
<ellipse cx="1160.0" cy="1842.0" rx="33.7" ry="13.5" fill="#ff0000" transform="rotate(3 1160.0 1842.0)"/>
<ellipse cx="1160.0" cy="1839.0" rx="33.2" ry="13.3" fill="#ff0000" transform="rotate(3 1160.0 1839.0)"/>
<ellipse cx="1160.0" cy="1836.0" rx="32.6" ry="13.1" fill="#ff0000" transform="rotate(3 1160.0 1836.0)"/>
<ellipse cx="1160.0" cy="1833.0" rx="32.0" ry="12.8" fill="#ff0000" transform="rotate(3 1160.0 1833.0)"/>
<ellipse cx="1160.0" cy="1830.0" rx="31.4" ry="12.6" fill="#ff0000" transform="rotate(3 1160.0 1830.0)"/>
<ellipse cx="1160.0" cy="1827.0" rx="30.8" ry="12.3" fill="#ff0000" transform="rotate(3 1160.0 1827.0)"/>
<ellipse cx="1160.0" cy="1824.0" rx="30.1" ry="12.1" fill="#ff0000" transform="rotate(3 1160.0 1824.0)"/>
<ellipse cx="1160.0" cy="1821.0" rx="29.5" ry="11.8" fill="#ff0000" transform="rotate(3 1160.0 1821.0)"/>
<ellipse cx="1160.0" cy="1818.0" rx="28.9" ry="11.6" fill="#fe0000" transform="rotate(3 1160.0 1818.0)"/>
<ellipse cx="1160.0" cy="1815.0" rx="28.3" ry="11.3" fill="#fa0000" transform="rotate(3 1160.0 1815.0)"/>
<defs><linearGradient id="tipg" gradientUnits="userSpaceOnUse" x1="0" y1="1732" x2="0" y2="1835"><stop offset="0" stop-color="#800000"/><stop offset="0.45" stop-color="#a80000"/><stop offset="0.78" stop-color="#d80000"/><stop offset="1" stop-color="#ff0000"/></linearGradient></defs>
<polygon points="1153.5,1732 1183,1773.5 1193.5,1836 1127.5,1836 1142,1776" fill="url(#tipg)"/>
<ellipse cx="1330" cy="2345" rx="135" ry="61" fill="url(#halo2)"/>
<ellipse cx="1325.0" cy="2326.0" rx="68.0" ry="24.5" fill="#8e00d6"/>
<ellipse cx="1325.0" cy="2323.0" rx="66.0" ry="23.8" fill="#8e00dc"/>
<ellipse cx="1325.0" cy="2320.0" rx="64.0" ry="23.0" fill="#8d00e2"/>
<ellipse cx="1325.0" cy="2317.0" rx="62.3" ry="22.4" fill="#8d00e8"/>
<ellipse cx="1325.0" cy="2314.0" rx="60.7" ry="21.8" fill="#8d00ee"/>
<ellipse cx="1325.0" cy="2311.0" rx="59.0" ry="21.2" fill="#8d00f3"/>
<ellipse cx="1325.0" cy="2308.0" rx="57.3" ry="20.6" fill="#8c00f9"/>
<ellipse cx="1325.0" cy="2305.0" rx="55.7" ry="20.0" fill="#8c00ff"/>
<ellipse cx="1325.0" cy="2302.0" rx="54.0" ry="19.4" fill="#7f00ff"/>
<ellipse cx="1325.0" cy="2299.0" rx="52.3" ry="18.8" fill="#7300ff"/>
<ellipse cx="1325.0" cy="2296.0" rx="50.7" ry="18.2" fill="#6600ff"/>
<ellipse cx="1325.0" cy="2293.0" rx="49.0" ry="17.6" fill="#5900ff"/>
<ellipse cx="1325.0" cy="2290.0" rx="47.3" ry="17.0" fill="#4c00ff"/>
<ellipse cx="1325.0" cy="2287.0" rx="45.7" ry="16.4" fill="#4000ff"/>
<ellipse cx="1325.0" cy="2284.0" rx="44.0" ry="15.8" fill="#3300ff"/>
<ellipse cx="1325.0" cy="2281.0" rx="41.5" ry="14.9" fill="#2600ff"/>
<ellipse cx="1325.0" cy="2278.0" rx="39.0" ry="14.0" fill="#1900ff"/>
<ellipse cx="1325.0" cy="2275.0" rx="36.5" ry="13.1" fill="#0d00ff"/>
<ellipse cx="1325.0" cy="2272.0" rx="34.0" ry="12.2" fill="#0000ff"/>
<ellipse cx="1325.0" cy="2269.0" rx="29.8" ry="10.7" fill="#000bff"/>
<ellipse cx="1325.0" cy="2266.0" rx="25.5" ry="9.2" fill="#0015ff"/>
<ellipse cx="1325.0" cy="2263.0" rx="19.9" ry="7.1" fill="#0020ff"/>
<ellipse cx="1325.0" cy="2260.0" rx="12.0" ry="4.3" fill="#002bff"/>
<g stroke="#000" stroke-width="3" fill="#000">
<line x1="919.5" y1="1928.5" x2="1085" y2="1990"/>
<polygon points="1101,1996.7 1074,1996.5 1080,1980" stroke="none"/>
<line x1="1412" y1="2113" x2="1238" y2="2049"/>
<polygon points="1221,2043 1248,2043 1242,2060" stroke="none"/>
</g>
<text transform="translate(1269,2043) rotate(19.5)" font-family="Liberation Sans, sans-serif" font-size="67" fill="#111">330fs</text>
<g stroke="#000" stroke-width="5.4" fill="none" stroke-linejoin="miter" stroke-linecap="square">
<polyline points="656.3,2381.4 653.7,1721.5 1126.2,1485.6 1686.2,1687.8 1679.0,2341.3"/>
<polyline points="656.3,2381.4 1214.5,2591.0 1679.0,2341.3"/>
</g>
<g stroke="#000" stroke-width="4.5" fill="none">
<line x1="690.9" y1="2394.4" x2="679.5" y2="2400.6"/>
<line x1="734.0" y1="2410.6" x2="726.9" y2="2414.4"/>
<line x1="777.1" y1="2426.7" x2="765.6" y2="2432.9"/>
<line x1="820.1" y1="2442.9" x2="813.1" y2="2446.7"/>
<line x1="863.2" y1="2459.1" x2="851.8" y2="2465.2"/>
<line x1="906.3" y1="2475.3" x2="899.2" y2="2479.1"/>
<line x1="949.4" y1="2491.4" x2="937.9" y2="2497.6"/>
<line x1="992.4" y1="2507.6" x2="985.4" y2="2511.4"/>
<line x1="1035.5" y1="2523.8" x2="1024.1" y2="2529.9"/>
<line x1="1078.6" y1="2540.0" x2="1071.5" y2="2543.8"/>
<line x1="1121.7" y1="2556.1" x2="1110.2" y2="2562.3"/>
<line x1="1164.7" y1="2572.3" x2="1157.7" y2="2576.1"/>
<line x1="1207.8" y1="2588.5" x2="1196.4" y2="2594.6"/>
<line x1="1214.5" y1="2591.0" x2="1227.6" y2="2595.9"/>
<line x1="1272.6" y1="2559.8" x2="1280.1" y2="2562.6"/>
<line x1="1330.6" y1="2528.6" x2="1343.7" y2="2533.5"/>
<line x1="1388.7" y1="2497.4" x2="1396.2" y2="2500.2"/>
<line x1="1446.8" y1="2466.2" x2="1459.9" y2="2471.1"/>
<line x1="1504.8" y1="2434.9" x2="1512.3" y2="2437.7"/>
<line x1="1562.9" y1="2403.7" x2="1576.0" y2="2408.6"/>
<line x1="1620.9" y1="2372.5" x2="1628.4" y2="2375.3"/>
<line x1="1679.0" y1="2341.3" x2="1692.1" y2="2346.2"/>
<line x1="1686.2" y1="1687.8" x2="1701.2" y2="1693.4"/>
<line x1="1684.9" y1="1806.0" x2="1699.9" y2="1811.6"/>
<line x1="1683.6" y1="1925.5" x2="1698.6" y2="1931.1"/>
<line x1="1682.3" y1="2045.0" x2="1697.2" y2="2050.6"/>
<line x1="1680.9" y1="2165.0" x2="1695.9" y2="2170.6"/>
<line x1="1679.6" y1="2285.0" x2="1694.6" y2="2290.6"/>
</g>
<g font-family="Liberation Sans, sans-serif" font-weight="bold" fill="#111">
<text transform="matrix(0.936,0.352,0,1,1711.2,1715.3)" font-size="38">1.0</text>
<text transform="matrix(0.936,0.352,0,1,1709.9,1833.5)" font-size="38">0.8</text>
<text transform="matrix(0.936,0.352,0,1,1708.6,1953.0)" font-size="38">0.6</text>
<text transform="matrix(0.936,0.352,0,1,1707.3,2072.5)" font-size="38">0.4</text>
<text transform="matrix(0.936,0.352,0,1,1705.9,2192.5)" font-size="38">0.2</text>
<text transform="matrix(0.936,0.352,0,1,1704.6,2312.5)" font-size="38">0.0</text>
<text transform="matrix(0.881,-0.473,0.936,0.352,690.9,2417.4)" font-size="38" text-anchor="end">-600</text>
<text transform="matrix(0.881,-0.473,0.936,0.352,777.1,2449.7)" font-size="38" text-anchor="end">-400</text>
<text transform="matrix(0.881,-0.473,0.936,0.352,863.2,2482.1)" font-size="38" text-anchor="end">-200</text>
<text transform="matrix(0.881,-0.473,0.936,0.352,949.4,2514.4)" font-size="38" text-anchor="end">0</text>
<text transform="matrix(0.881,-0.473,0.936,0.352,1035.5,2546.8)" font-size="38" text-anchor="end">200</text>
<text transform="matrix(0.881,-0.473,0.936,0.352,1121.7,2579.1)" font-size="38" text-anchor="end">400</text>
<text transform="matrix(0.881,-0.473,0.936,0.352,1207.8,2611.5)" font-size="38" text-anchor="end">600</text>
<text transform="matrix(0.936,0.352,-0.881,0.473,1230.0,2612.5)" font-size="38">530</text>
<text transform="matrix(0.936,0.352,-0.881,0.473,1346.1,2550.1)" font-size="38">525</text>
<text transform="matrix(0.936,0.352,-0.881,0.473,1462.2,2487.7)" font-size="38">520</text>
<text transform="matrix(0.936,0.352,-0.881,0.473,1578.4,2425.2)" font-size="38">515</text>
<text transform="matrix(0.936,0.352,-0.881,0.473,1694.5,2362.8)" font-size="38">510</text>
<text transform="matrix(0.936,0.352,-0.881,0.473,714,2525)" font-size="46.5">Time [fs]</text>
<text transform="matrix(0.881,-0.473,0.983,0.369,1436.5,2608)" font-size="44">Wavelength [nm]</text>
<text transform="matrix(0.043,-1.420,0.936,0.352,1802,2244)" font-size="38">Intensity [a.u.]</text>
</g>
</svg>
</body></html>
